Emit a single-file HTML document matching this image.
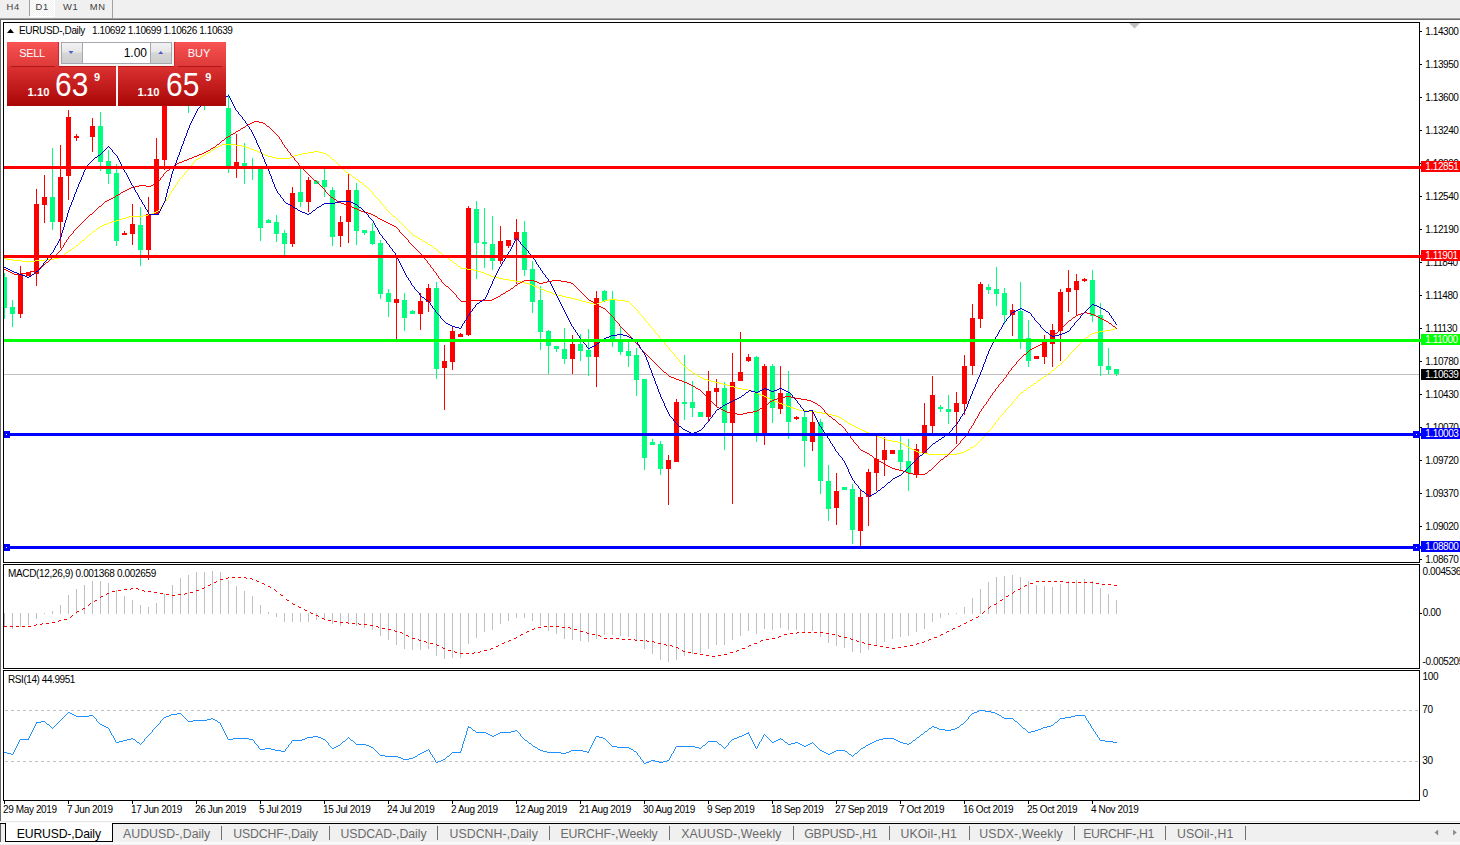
<!DOCTYPE html>
<html><head><meta charset="utf-8"><title>EURUSD</title>
<style>
html,body{margin:0;padding:0;background:#fff;}
body{width:1460px;height:845px;position:relative;overflow:hidden;font-family:"Liberation Sans",sans-serif;}
#chart{position:absolute;left:0;top:0}
.t{position:absolute;white-space:nowrap;line-height:11px;}
.ax{letter-spacing:-0.42px}
.pl{position:absolute;left:1421px;width:39px;height:11px;line-height:11px;font-size:10px;letter-spacing:-0.42px;white-space:nowrap;text-indent:4.3px;}
#tb{position:absolute;left:0;top:0;width:1460px;height:18px;background:#f0f0f0}
.tbt{position:absolute;top:0.8px;font-size:9.4px;letter-spacing:0.7px;line-height:12px;color:#404040}
#d1bg{position:absolute;left:30px;top:0;width:24px;height:16px;background:repeating-conic-gradient(#ffffff 0% 25%, #f0f0f0 0% 50%) 0 0/2px 2px;border-right:1px solid #fff;border-bottom:1px solid #fff}
.vs{position:absolute;top:0;width:1px;background:#a0a0a0}
#l18{position:absolute;left:0;top:18px;width:1460px;height:1px;background:#a0a0a0}
#l19{position:absolute;left:0;top:19px;width:1460px;height:1px;background:#696969}
#lv{position:absolute;left:0;top:19px;width:1px;height:802px;background:#696969}
#tabbar{position:absolute;left:0;top:821px;width:1460px;height:24px;background:#f0f0f0}
#tabline0{position:absolute;left:0;top:821px;width:1460px;height:1px;background:#e6e6e6}
#tabline1{position:absolute;left:0;top:822px;width:1460px;height:1px;background:#fbfbfb}
#tabline{position:absolute;left:0;top:823px;width:1460px;height:1px;background:#000}
#tabbot{position:absolute;left:0;top:842px;width:1460px;height:2px;background:#fafafa}
#tabl{position:absolute;left:0;top:824px;width:1px;height:18px;background:#606060}
#tabact{position:absolute;left:5px;top:823px;width:106px;height:18px;background:#fff;border:1px solid #000;border-top:none;font-size:12.2px;letter-spacing:-0.15px;line-height:22.6px;text-indent:10.8px;color:#000}
#tabact0{position:absolute;left:0;top:822px;width:113px;height:1px;background:#fff}
#tabact1{position:absolute;left:0;top:823px;width:6px;height:1px;background:#000}
#tabact2{position:absolute;left:5px;top:823px;width:1px;height:19px;background:#000}
.tab{position:absolute;top:826.8px;font-size:12.3px;letter-spacing:-0.12px;line-height:14px;color:#6a6a6a;white-space:nowrap}
.tsep{position:absolute;top:826px;width:1px;height:14px;background:#707070}
#pnl{position:absolute;left:7px;top:42px;width:219px;height:64px}
.pb{position:absolute}
.pt{position:absolute;color:#fff;white-space:nowrap;line-height:1.2}
.big{font-size:34px;line-height:36px;transform:scaleX(0.88);transform-origin:0 0}
</style></head>
<body>
<svg id="chart" width="1460" height="845" viewBox="0 0 1460 845">
<defs><clipPath id="cm"><rect x="4" y="23" width="1415" height="539"/></clipPath></defs>
<rect x="4" y="374" width="1415" height="1" fill="#c0c0c0"/>
<g clip-path="url(#cm)">
<rect x="4" y="273" width="1" height="46" fill="#00ff7f"/>
<rect x="2" y="277" width="5" height="31" fill="#00ff7f"/>
<rect x="12" y="300" width="1" height="27" fill="#00ff7f"/>
<rect x="10" y="307" width="5" height="7" fill="#00ff7f"/>
<rect x="20" y="266" width="1" height="52" fill="#ff0000"/>
<rect x="18" y="274" width="5" height="40" fill="#ff0000"/>
<rect x="28" y="272" width="1" height="4" fill="#ff0000"/>
<rect x="26" y="272" width="5" height="4" fill="#ff0000"/>
<rect x="36" y="189" width="1" height="97" fill="#ff0000"/>
<rect x="34" y="204" width="5" height="70" fill="#ff0000"/>
<rect x="44" y="175" width="1" height="48" fill="#ff0000"/>
<rect x="42" y="197" width="5" height="8" fill="#ff0000"/>
<rect x="52" y="148" width="1" height="82" fill="#00ff7f"/>
<rect x="50" y="197" width="5" height="25" fill="#00ff7f"/>
<rect x="60" y="145" width="1" height="103" fill="#ff0000"/>
<rect x="58" y="177" width="5" height="45" fill="#ff0000"/>
<rect x="68" y="110" width="1" height="90" fill="#ff0000"/>
<rect x="66" y="117" width="5" height="59" fill="#ff0000"/>
<rect x="76" y="134" width="1" height="7" fill="#ff0000"/>
<rect x="74" y="136" width="5" height="2" fill="#ff0000"/>
<rect x="92" y="118" width="1" height="34" fill="#ff0000"/>
<rect x="90" y="126" width="5" height="11" fill="#ff0000"/>
<rect x="100" y="112" width="1" height="59" fill="#00ff7f"/>
<rect x="98" y="126" width="5" height="36" fill="#00ff7f"/>
<rect x="108" y="150" width="1" height="34" fill="#00ff7f"/>
<rect x="106" y="161" width="5" height="13" fill="#00ff7f"/>
<rect x="116" y="164" width="1" height="82" fill="#00ff7f"/>
<rect x="114" y="173" width="5" height="68" fill="#00ff7f"/>
<rect x="124" y="231" width="1" height="4" fill="#ff0000"/>
<rect x="122" y="233" width="5" height="2" fill="#ff0000"/>
<rect x="132" y="204" width="1" height="41" fill="#ff0000"/>
<rect x="130" y="224" width="5" height="10" fill="#ff0000"/>
<rect x="140" y="207" width="1" height="59" fill="#00ff7f"/>
<rect x="138" y="225" width="5" height="25" fill="#00ff7f"/>
<rect x="148" y="197" width="1" height="63" fill="#ff0000"/>
<rect x="146" y="214" width="5" height="36" fill="#ff0000"/>
<rect x="156" y="138" width="1" height="77" fill="#ff0000"/>
<rect x="154" y="159" width="5" height="56" fill="#ff0000"/>
<rect x="164" y="55" width="1" height="115" fill="#ff0000"/>
<rect x="162" y="72" width="5" height="88" fill="#ff0000"/>
<rect x="188" y="70" width="1" height="43" fill="#00ff7f"/>
<rect x="186" y="80" width="5" height="20" fill="#00ff7f"/>
<rect x="204" y="70" width="1" height="40" fill="#00ff7f"/>
<rect x="202" y="80" width="5" height="20" fill="#00ff7f"/>
<rect x="228" y="94" width="1" height="79" fill="#00ff7f"/>
<rect x="226" y="108" width="5" height="58" fill="#00ff7f"/>
<rect x="236" y="134" width="1" height="44" fill="#ff0000"/>
<rect x="234" y="162" width="5" height="4" fill="#ff0000"/>
<rect x="244" y="143" width="1" height="41" fill="#00ff7f"/>
<rect x="242" y="163" width="5" height="3" fill="#00ff7f"/>
<rect x="252" y="158" width="1" height="22" fill="#00ff7f"/>
<rect x="250" y="166" width="5" height="2" fill="#00ff7f"/>
<rect x="260" y="166" width="1" height="75" fill="#00ff7f"/>
<rect x="258" y="169" width="5" height="59" fill="#00ff7f"/>
<rect x="268" y="219" width="1" height="4" fill="#00ff7f"/>
<rect x="266" y="220" width="5" height="3" fill="#00ff7f"/>
<rect x="276" y="215" width="1" height="27" fill="#00ff7f"/>
<rect x="274" y="222" width="5" height="12" fill="#00ff7f"/>
<rect x="284" y="230" width="1" height="25" fill="#00ff7f"/>
<rect x="282" y="233" width="5" height="11" fill="#00ff7f"/>
<rect x="292" y="187" width="1" height="60" fill="#ff0000"/>
<rect x="290" y="193" width="5" height="51" fill="#ff0000"/>
<rect x="300" y="169" width="1" height="38" fill="#00ff7f"/>
<rect x="298" y="192" width="5" height="10" fill="#00ff7f"/>
<rect x="308" y="177" width="1" height="35" fill="#ff0000"/>
<rect x="306" y="180" width="5" height="22" fill="#ff0000"/>
<rect x="316" y="180" width="1" height="4" fill="#00ff7f"/>
<rect x="314" y="181" width="5" height="3" fill="#00ff7f"/>
<rect x="324" y="169" width="1" height="28" fill="#00ff7f"/>
<rect x="322" y="180" width="5" height="7" fill="#00ff7f"/>
<rect x="332" y="187" width="1" height="59" fill="#00ff7f"/>
<rect x="330" y="190" width="5" height="47" fill="#00ff7f"/>
<rect x="340" y="216" width="1" height="31" fill="#ff0000"/>
<rect x="338" y="222" width="5" height="14" fill="#ff0000"/>
<rect x="348" y="174" width="1" height="69" fill="#ff0000"/>
<rect x="346" y="190" width="5" height="32" fill="#ff0000"/>
<rect x="356" y="183" width="1" height="62" fill="#00ff7f"/>
<rect x="354" y="190" width="5" height="41" fill="#00ff7f"/>
<rect x="364" y="230" width="1" height="5" fill="#00ff7f"/>
<rect x="362" y="230" width="5" height="3" fill="#00ff7f"/>
<rect x="372" y="223" width="1" height="22" fill="#00ff7f"/>
<rect x="370" y="231" width="5" height="13" fill="#00ff7f"/>
<rect x="380" y="240" width="1" height="59" fill="#00ff7f"/>
<rect x="378" y="243" width="5" height="51" fill="#00ff7f"/>
<rect x="388" y="289" width="1" height="28" fill="#00ff7f"/>
<rect x="386" y="293" width="5" height="9" fill="#00ff7f"/>
<rect x="396" y="258" width="1" height="81" fill="#ff0000"/>
<rect x="394" y="299" width="5" height="4" fill="#ff0000"/>
<rect x="404" y="293" width="1" height="38" fill="#00ff7f"/>
<rect x="402" y="300" width="5" height="18" fill="#00ff7f"/>
<rect x="412" y="310" width="1" height="4" fill="#00ff7f"/>
<rect x="410" y="311" width="5" height="3" fill="#00ff7f"/>
<rect x="420" y="293" width="1" height="37" fill="#ff0000"/>
<rect x="418" y="301" width="5" height="13" fill="#ff0000"/>
<rect x="428" y="284" width="1" height="28" fill="#ff0000"/>
<rect x="426" y="288" width="5" height="14" fill="#ff0000"/>
<rect x="436" y="282" width="1" height="97" fill="#00ff7f"/>
<rect x="434" y="288" width="5" height="81" fill="#00ff7f"/>
<rect x="444" y="345" width="1" height="65" fill="#ff0000"/>
<rect x="442" y="361" width="5" height="7" fill="#ff0000"/>
<rect x="452" y="327" width="1" height="43" fill="#ff0000"/>
<rect x="450" y="331" width="5" height="31" fill="#ff0000"/>
<rect x="460" y="333" width="1" height="4" fill="#ff0000"/>
<rect x="458" y="334" width="5" height="3" fill="#ff0000"/>
<rect x="468" y="206" width="1" height="130" fill="#ff0000"/>
<rect x="466" y="208" width="5" height="127" fill="#ff0000"/>
<rect x="476" y="201" width="1" height="78" fill="#00ff7f"/>
<rect x="474" y="209" width="5" height="34" fill="#00ff7f"/>
<rect x="484" y="208" width="1" height="60" fill="#00ff7f"/>
<rect x="482" y="242" width="5" height="2" fill="#00ff7f"/>
<rect x="492" y="216" width="1" height="54" fill="#00ff7f"/>
<rect x="490" y="244" width="5" height="17" fill="#00ff7f"/>
<rect x="500" y="226" width="1" height="38" fill="#ff0000"/>
<rect x="498" y="241" width="5" height="20" fill="#ff0000"/>
<rect x="508" y="240" width="1" height="8" fill="#ff0000"/>
<rect x="506" y="240" width="5" height="6" fill="#ff0000"/>
<rect x="516" y="219" width="1" height="65" fill="#ff0000"/>
<rect x="514" y="232" width="5" height="8" fill="#ff0000"/>
<rect x="524" y="221" width="1" height="55" fill="#00ff7f"/>
<rect x="522" y="232" width="5" height="38" fill="#00ff7f"/>
<rect x="532" y="261" width="1" height="52" fill="#00ff7f"/>
<rect x="530" y="269" width="5" height="33" fill="#00ff7f"/>
<rect x="540" y="286" width="1" height="64" fill="#00ff7f"/>
<rect x="538" y="300" width="5" height="32" fill="#00ff7f"/>
<rect x="548" y="330" width="1" height="44" fill="#00ff7f"/>
<rect x="546" y="331" width="5" height="15" fill="#00ff7f"/>
<rect x="556" y="346" width="1" height="6" fill="#00ff7f"/>
<rect x="554" y="346" width="5" height="3" fill="#00ff7f"/>
<rect x="564" y="328" width="1" height="36" fill="#00ff7f"/>
<rect x="562" y="349" width="5" height="10" fill="#00ff7f"/>
<rect x="572" y="335" width="1" height="39" fill="#ff0000"/>
<rect x="570" y="344" width="5" height="15" fill="#ff0000"/>
<rect x="580" y="334" width="1" height="27" fill="#00ff7f"/>
<rect x="578" y="344" width="5" height="7" fill="#00ff7f"/>
<rect x="588" y="329" width="1" height="47" fill="#00ff7f"/>
<rect x="586" y="350" width="5" height="7" fill="#00ff7f"/>
<rect x="596" y="291" width="1" height="96" fill="#ff0000"/>
<rect x="594" y="298" width="5" height="59" fill="#ff0000"/>
<rect x="604" y="290" width="1" height="12" fill="#00ff7f"/>
<rect x="602" y="291" width="5" height="10" fill="#00ff7f"/>
<rect x="612" y="291" width="1" height="56" fill="#00ff7f"/>
<rect x="610" y="300" width="5" height="42" fill="#00ff7f"/>
<rect x="620" y="327" width="1" height="28" fill="#00ff7f"/>
<rect x="618" y="341" width="5" height="11" fill="#00ff7f"/>
<rect x="628" y="342" width="1" height="25" fill="#00ff7f"/>
<rect x="626" y="351" width="5" height="5" fill="#00ff7f"/>
<rect x="636" y="348" width="1" height="48" fill="#00ff7f"/>
<rect x="634" y="355" width="5" height="25" fill="#00ff7f"/>
<rect x="644" y="379" width="1" height="91" fill="#00ff7f"/>
<rect x="642" y="379" width="5" height="79" fill="#00ff7f"/>
<rect x="652" y="439" width="1" height="6" fill="#00ff7f"/>
<rect x="650" y="442" width="5" height="3" fill="#00ff7f"/>
<rect x="660" y="441" width="1" height="34" fill="#00ff7f"/>
<rect x="658" y="444" width="5" height="25" fill="#00ff7f"/>
<rect x="668" y="455" width="1" height="50" fill="#ff0000"/>
<rect x="666" y="460" width="5" height="9" fill="#ff0000"/>
<rect x="676" y="399" width="1" height="63" fill="#ff0000"/>
<rect x="674" y="402" width="5" height="60" fill="#ff0000"/>
<rect x="684" y="355" width="1" height="65" fill="#00ff7f"/>
<rect x="682" y="402" width="5" height="2" fill="#00ff7f"/>
<rect x="692" y="381" width="1" height="36" fill="#00ff7f"/>
<rect x="690" y="402" width="5" height="6" fill="#00ff7f"/>
<rect x="700" y="412" width="1" height="5" fill="#00ff7f"/>
<rect x="698" y="412" width="5" height="5" fill="#00ff7f"/>
<rect x="708" y="371" width="1" height="50" fill="#ff0000"/>
<rect x="706" y="391" width="5" height="26" fill="#ff0000"/>
<rect x="716" y="379" width="1" height="27" fill="#ff0000"/>
<rect x="714" y="388" width="5" height="4" fill="#ff0000"/>
<rect x="724" y="382" width="1" height="68" fill="#00ff7f"/>
<rect x="722" y="388" width="5" height="35" fill="#00ff7f"/>
<rect x="732" y="353" width="1" height="151" fill="#ff0000"/>
<rect x="730" y="382" width="5" height="41" fill="#ff0000"/>
<rect x="740" y="332" width="1" height="49" fill="#ff0000"/>
<rect x="738" y="372" width="5" height="9" fill="#ff0000"/>
<rect x="748" y="354" width="1" height="8" fill="#ff0000"/>
<rect x="746" y="357" width="5" height="4" fill="#ff0000"/>
<rect x="756" y="356" width="1" height="86" fill="#00ff7f"/>
<rect x="754" y="357" width="5" height="76" fill="#00ff7f"/>
<rect x="764" y="364" width="1" height="81" fill="#ff0000"/>
<rect x="762" y="366" width="5" height="67" fill="#ff0000"/>
<rect x="772" y="364" width="1" height="59" fill="#00ff7f"/>
<rect x="770" y="366" width="5" height="42" fill="#00ff7f"/>
<rect x="780" y="366" width="1" height="48" fill="#ff0000"/>
<rect x="778" y="393" width="5" height="16" fill="#ff0000"/>
<rect x="788" y="371" width="1" height="68" fill="#00ff7f"/>
<rect x="786" y="393" width="5" height="29" fill="#00ff7f"/>
<rect x="796" y="416" width="1" height="4" fill="#ff0000"/>
<rect x="794" y="417" width="5" height="2" fill="#ff0000"/>
<rect x="804" y="410" width="1" height="57" fill="#00ff7f"/>
<rect x="802" y="417" width="5" height="24" fill="#00ff7f"/>
<rect x="812" y="410" width="1" height="41" fill="#ff0000"/>
<rect x="810" y="422" width="5" height="20" fill="#ff0000"/>
<rect x="820" y="419" width="1" height="75" fill="#00ff7f"/>
<rect x="818" y="422" width="5" height="59" fill="#00ff7f"/>
<rect x="828" y="465" width="1" height="56" fill="#00ff7f"/>
<rect x="826" y="481" width="5" height="28" fill="#00ff7f"/>
<rect x="836" y="473" width="1" height="52" fill="#ff0000"/>
<rect x="834" y="491" width="5" height="17" fill="#ff0000"/>
<rect x="844" y="487" width="1" height="3" fill="#00ff7f"/>
<rect x="842" y="487" width="5" height="3" fill="#00ff7f"/>
<rect x="852" y="484" width="1" height="60" fill="#00ff7f"/>
<rect x="850" y="489" width="5" height="41" fill="#00ff7f"/>
<rect x="860" y="490" width="1" height="56" fill="#ff0000"/>
<rect x="858" y="497" width="5" height="34" fill="#ff0000"/>
<rect x="868" y="469" width="1" height="57" fill="#ff0000"/>
<rect x="866" y="472" width="5" height="25" fill="#ff0000"/>
<rect x="876" y="435" width="1" height="56" fill="#ff0000"/>
<rect x="874" y="459" width="5" height="14" fill="#ff0000"/>
<rect x="884" y="437" width="1" height="39" fill="#ff0000"/>
<rect x="882" y="450" width="5" height="10" fill="#ff0000"/>
<rect x="892" y="450" width="1" height="4" fill="#ff0000"/>
<rect x="890" y="450" width="5" height="4" fill="#ff0000"/>
<rect x="900" y="436" width="1" height="34" fill="#00ff7f"/>
<rect x="898" y="450" width="5" height="12" fill="#00ff7f"/>
<rect x="908" y="439" width="1" height="52" fill="#00ff7f"/>
<rect x="906" y="461" width="5" height="12" fill="#00ff7f"/>
<rect x="916" y="444" width="1" height="34" fill="#ff0000"/>
<rect x="914" y="449" width="5" height="25" fill="#ff0000"/>
<rect x="924" y="403" width="1" height="51" fill="#ff0000"/>
<rect x="922" y="425" width="5" height="29" fill="#ff0000"/>
<rect x="932" y="376" width="1" height="58" fill="#ff0000"/>
<rect x="930" y="395" width="5" height="31" fill="#ff0000"/>
<rect x="940" y="405" width="1" height="7" fill="#00ff7f"/>
<rect x="938" y="407" width="5" height="2" fill="#00ff7f"/>
<rect x="948" y="395" width="1" height="29" fill="#00ff7f"/>
<rect x="946" y="409" width="5" height="3" fill="#00ff7f"/>
<rect x="956" y="392" width="1" height="52" fill="#ff0000"/>
<rect x="954" y="403" width="5" height="9" fill="#ff0000"/>
<rect x="964" y="355" width="1" height="60" fill="#ff0000"/>
<rect x="962" y="366" width="5" height="38" fill="#ff0000"/>
<rect x="972" y="304" width="1" height="71" fill="#ff0000"/>
<rect x="970" y="318" width="5" height="48" fill="#ff0000"/>
<rect x="980" y="282" width="1" height="46" fill="#ff0000"/>
<rect x="978" y="284" width="5" height="35" fill="#ff0000"/>
<rect x="988" y="284" width="1" height="10" fill="#00ff7f"/>
<rect x="986" y="287" width="5" height="3" fill="#00ff7f"/>
<rect x="996" y="267" width="1" height="39" fill="#00ff7f"/>
<rect x="994" y="289" width="5" height="5" fill="#00ff7f"/>
<rect x="1004" y="288" width="1" height="36" fill="#00ff7f"/>
<rect x="1002" y="293" width="5" height="22" fill="#00ff7f"/>
<rect x="1012" y="304" width="1" height="32" fill="#ff0000"/>
<rect x="1010" y="310" width="5" height="5" fill="#ff0000"/>
<rect x="1020" y="282" width="1" height="67" fill="#00ff7f"/>
<rect x="1018" y="311" width="5" height="28" fill="#00ff7f"/>
<rect x="1028" y="320" width="1" height="47" fill="#00ff7f"/>
<rect x="1026" y="338" width="5" height="23" fill="#00ff7f"/>
<rect x="1036" y="356" width="1" height="3" fill="#ff0000"/>
<rect x="1034" y="356" width="5" height="3" fill="#ff0000"/>
<rect x="1044" y="335" width="1" height="29" fill="#ff0000"/>
<rect x="1042" y="342" width="5" height="15" fill="#ff0000"/>
<rect x="1052" y="324" width="1" height="43" fill="#ff0000"/>
<rect x="1050" y="330" width="5" height="14" fill="#ff0000"/>
<rect x="1060" y="289" width="1" height="72" fill="#ff0000"/>
<rect x="1058" y="292" width="5" height="39" fill="#ff0000"/>
<rect x="1068" y="270" width="1" height="42" fill="#ff0000"/>
<rect x="1066" y="288" width="5" height="4" fill="#ff0000"/>
<rect x="1076" y="274" width="1" height="41" fill="#ff0000"/>
<rect x="1074" y="281" width="5" height="9" fill="#ff0000"/>
<rect x="1084" y="278" width="1" height="4" fill="#ff0000"/>
<rect x="1082" y="279" width="5" height="2" fill="#ff0000"/>
<rect x="1092" y="270" width="1" height="52" fill="#00ff7f"/>
<rect x="1090" y="280" width="5" height="36" fill="#00ff7f"/>
<rect x="1100" y="303" width="1" height="73" fill="#00ff7f"/>
<rect x="1098" y="315" width="5" height="51" fill="#00ff7f"/>
<rect x="1108" y="348" width="1" height="27" fill="#00ff7f"/>
<rect x="1106" y="366" width="5" height="4" fill="#00ff7f"/>
<rect x="1116" y="369" width="1" height="7" fill="#00ff7f"/>
<rect x="1114" y="369" width="5" height="5" fill="#00ff7f"/>
</g>
<g clip-path="url(#cm)" shape-rendering="crispEdges">
<path d="M206 153h2v1h-2zM261 153h2v1h-2zM302 153h6v1h-6zM323 153h3v1h-3zM203 155h2v1h-2zM265 155h3v1h-3zM294 155h4v1h-4zM327 155h2v1h-2zM196 159h2v1h-2zM332 159h2v1h-2zM908 447h2v1h-2zM971 447h2v1h-2zM887 440h5v1h-5zM586 302h4v1h-4zM599 302h3v1h-3zM257 151h2v1h-2zM314 151h5v1h-5zM222 144h14v1h-14zM104 224h3v1h-3zM918 452h4v1h-4zM961 452h3v1h-3zM549 292h3v1h-3zM774 401h3v1h-3zM76 245h2v1h-2zM430 245h2v1h-2zM211 150h2v1h-2zM254 150h3v1h-3zM766 397h2v1h-2zM356 179h2v1h-2zM109 222h3v1h-3zM1095 332h4v1h-4zM541 289h3v1h-3zM768 398h2v1h-2zM759 394h2v1h-2zM216 147h2v1h-2zM246 147h3v1h-3zM503 279h6v1h-6zM201 156h2v1h-2zM268 156h4v1h-4zM292 156h2v1h-2zM842 419h2v1h-2zM148 214h4v1h-4zM4 258h3v1h-3zM54 258h5v1h-5zM7 259h6v1h-6zM45 259h9v1h-9zM860 429h2v1h-2zM882 438h3v1h-3zM579 300h3v1h-3zM604 300h5v1h-5zM617 300h8v1h-8zM684 366h2v1h-2zM770 399h2v1h-2zM761 395h3v1h-3zM799 410h8v1h-8zM796 409h3v1h-3zM836 416h3v1h-3zM478 271h3v1h-3zM129 216h14v1h-14zM393 216h2v1h-2zM515 281h6v1h-6zM928 454h29v1h-29zM754 392h3v1h-3zM1021 392h2v1h-2zM575 299h4v1h-4zM609 299h8v1h-8zM785 405h2v1h-2zM13 260h9v1h-9zM35 260h10v1h-10zM450 260h2v1h-2zM428 244h2v1h-2zM839 417h2v1h-2zM807 411h9v1h-9zM499 278h4v1h-4zM116 220h3v1h-3zM208 152h2v1h-2zM259 152h2v1h-2zM308 152h6v1h-6zM319 152h4v1h-4zM816 412h6v1h-6zM272 157h4v1h-4zM290 157h2v1h-2zM22 261h13v1h-13zM748 390h4v1h-4zM1024 390h2v1h-2zM100 226h2v1h-2zM790 407h3v1h-3zM554 294h4v1h-4zM892 441h6v1h-6zM218 146h2v1h-2zM242 146h4v1h-4zM832 415h4v1h-4zM62 255h2v1h-2zM443 255h2v1h-2zM1099 331h6v1h-6zM156 211h2v1h-2zM143 215h5v1h-5zM82 240h2v1h-2zM711 381h4v1h-4zM154 212h2v1h-2zM249 148h2v1h-2zM72 248h2v1h-2zM434 248h2v1h-2zM1105 330h6v1h-6zM521 282h4v1h-4zM793 408h3v1h-3zM152 213h2v1h-2zM458 266h2v1h-2zM704 379h4v1h-4zM742 389h6v1h-6zM582 301h4v1h-4zM602 301h2v1h-2zM625 301h4v1h-4zM420 239h2v1h-2zM349 174h2v1h-2zM66 252h2v1h-2zM439 252h2v1h-2zM787 406h3v1h-3zM698 376h2v1h-2zM1044 376h2v1h-2zM734 387h3v1h-3zM1028 387h2v1h-2zM715 382h4v1h-4zM454 263h2v1h-2zM1086 337h2v1h-2zM822 413h6v1h-6zM481 272h3v1h-3zM723 384h4v1h-4zM461 268h6v1h-6zM1090 334h2v1h-2zM198 158h2v1h-2zM276 158h14v1h-14zM719 383h4v1h-4zM1034 383h2v1h-2zM122 218h4v1h-4zM590 303h4v1h-4zM597 303h2v1h-2zM906 446h2v1h-2zM973 446h2v1h-2zM102 225h2v1h-2zM558 295h4v1h-4zM1058 365h2v1h-2zM418 238h2v1h-2zM491 276h4v1h-4zM509 280h6v1h-6zM263 154h2v1h-2zM298 154h4v1h-4zM415 236h2v1h-2zM864 431h2v1h-2zM484 273h2v1h-2zM525 283h4v1h-4zM220 145h2v1h-2zM236 145h6v1h-6zM112 221h4v1h-4zM126 217h3v1h-3zM916 451h2v1h-2zM964 451h2v1h-2zM866 432h3v1h-3zM486 274h3v1h-3zM693 373h2v1h-2zM1048 373h2v1h-2zM365 186h2v1h-2zM489 275h2v1h-2zM467 269h7v1h-7zM852 425h2v1h-2zM562 296h4v1h-4zM872 434h2v1h-2zM544 290h2v1h-2zM903 444h2v1h-2zM862 430h2v1h-2zM901 443h2v1h-2zM912 449h2v1h-2zM968 449h2v1h-2zM727 385h3v1h-3zM1031 385h2v1h-2zM537 287h2v1h-2zM700 377h2v1h-2zM566 297h5v1h-5zM845 421h2v1h-2zM856 427h2v1h-2zM898 442h3v1h-3zM848 423h2v1h-2zM529 284h3v1h-3zM702 378h2v1h-2zM1041 378h2v1h-2zM877 436h2v1h-2zM539 288h2v1h-2zM757 393h2v1h-2zM922 453h6v1h-6zM957 453h4v1h-4zM910 448h2v1h-2zM879 437h3v1h-3zM869 433h3v1h-3zM532 285h2v1h-2zM730 386h4v1h-4zM534 286h3v1h-3zM854 426h2v1h-2zM594 304h3v1h-3zM874 435h3v1h-3zM495 277h4v1h-4zM571 298h4v1h-4zM689 370h2v1h-2zM1052 370h2v1h-2zM346 172h2v1h-2zM552 293h2v1h-2zM885 439h2v1h-2zM828 414h4v1h-4zM752 391h2v1h-2zM772 400h2v1h-2zM360 182h2v1h-2zM119 219h3v1h-3zM708 380h3v1h-3zM1038 380h2v1h-2zM737 388h5v1h-5zM1111 329h4v1h-4zM213 149h2v1h-2zM251 149h3v1h-3zM546 291h3v1h-3zM93 231h2v1h-2zM764 396h2v1h-2zM107 223h2v1h-2zM474 270h4v1h-4zM423 241h2v1h-2zM782 404h3v1h-3zM89 234h2v1h-2zM779 403h3v1h-3zM59 257h2v1h-2zM446 257h2v1h-2zM1092 333h3v1h-3zM353 177h2v1h-2zM97 228h2v1h-2zM425 242h2v1h-2zM858 428h2v1h-2zM1115 328h2v1h-2zM914 450h2v1h-2zM966 450h2v1h-2zM850 424h2v1h-2zM69 250h2v1h-2zM413 235h2v1h-2zM695 374h2v1h-2zM777 402h2v1h-2zM92 232h1v1h-1zM1069 354h1v1h-1zM673 353h1v1h-1zM995 422h1v2h-1zM400 222h1v1h-1zM655 332h1v1h-1zM370 190h1v1h-1zM64 254h1v1h-1zM990 429h1v1h-1zM648 323h1v1h-1zM173 188h1v2h-1zM1057 366h1v1h-1zM68 251h1v1h-1zM334 160h1v1h-1zM445 256h1v1h-1zM1006 409h1v1h-1zM189 168h1v1h-1zM407 229h1v1h-1zM1061 363h1v1h-1zM340 166h1v1h-1zM160 207h1v2h-1zM169 194h1v2h-1zM998 418h1v2h-1zM666 345h1v1h-1zM96 229h1v1h-1zM341 167h1v1h-1zM381 203h1v1h-1zM1076 347h1v1h-1zM982 438h1v1h-1zM688 369h1v1h-1zM355 178h1v1h-1zM979 441h1v1h-1zM388 211h1v1h-1zM389 212h1v1h-1zM215 148h1v1h-1zM1068 355h1v2h-1zM374 195h1v1h-1zM640 314h1v1h-1zM1040 379h1v1h-1zM329 156h1v1h-1zM1083 340h1v1h-1zM184 173h1v2h-1zM647 322h1v1h-1zM172 190h1v1h-1zM422 240h1v1h-1zM1033 384h1v1h-1zM176 184h1v1h-1zM179 179h1v2h-1zM373 193h1v2h-1zM632 305h1v1h-1zM417 237h1v1h-1zM1071 352h1v1h-1zM683 365h1v1h-1zM168 196h1v2h-1zM192 164h1v1h-1zM87 236h1v1h-1zM639 313h1v1h-1zM163 203h1v2h-1zM351 175h1v1h-1zM658 335h1v1h-1zM1013 401h1v1h-1zM187 170h1v1h-1zM395 217h1v1h-1zM669 348h1v2h-1zM1005 410h1v2h-1zM1008 407h1v1h-1zM1063 361h1v1h-1zM986 433h1v2h-1zM989 430h1v1h-1zM676 357h1v1h-1zM977 443h1v1h-1zM402 224h1v1h-1zM195 160h1v1h-1zM657 334h1v1h-1zM905 445h1v1h-1zM436 249h1v1h-1zM91 233h1v1h-1zM970 448h1v1h-1zM997 420h1v1h-1zM74 247h1v1h-1zM380 201h1v2h-1zM1075 348h1v1h-1zM175 185h1v2h-1zM649 324h1v2h-1zM78 244h1v1h-1zM992 426h1v2h-1zM631 304h1v1h-1zM650 326h1v1h-1zM335 161h1v1h-1zM390 213h1v1h-1zM372 192h1v1h-1zM1023 391h1v1h-1zM1054 369h1v1h-1zM391 214h1v1h-1zM638 311h1v2h-1zM679 360h1v2h-1zM1078 345h1v1h-1zM1000 416h1v1h-1zM1027 388h1v1h-1zM981 439h1v1h-1zM166 199h1v2h-1zM409 231h1v1h-1zM205 154h1v1h-1zM667 346h1v1h-1zM401 223h1v1h-1zM668 347h1v1h-1zM331 158h1v1h-1zM383 205h1v1h-1zM844 420h1v1h-1zM1012 402h1v2h-1zM1067 357h1v1h-1zM1070 353h1v1h-1zM408 230h1v1h-1zM427 243h1v1h-1zM1085 338h1v1h-1zM159 209h1v1h-1zM171 191h1v2h-1zM352 176h1v1h-1zM660 338h1v1h-1zM1089 335h1v1h-1zM1043 377h1v1h-1zM342 168h1v1h-1zM382 204h1v1h-1zM641 315h1v1h-1zM642 316h1v1h-1zM178 181h1v1h-1zM1073 350h1v1h-1zM442 254h1v1h-1zM976 444h1v1h-1zM194 161h1v1h-1zM659 336h1v2h-1zM162 205h1v1h-1zM165 201h1v1h-1zM678 359h1v1h-1zM80 242h1v1h-1zM186 171h1v1h-1zM375 196h1v1h-1zM991 428h1v1h-1zM634 307h1v1h-1zM61 256h1v1h-1zM460 267h1v1h-1zM1065 359h1v1h-1zM330 157h1v1h-1zM181 177h1v1h-1zM441 253h1v1h-1zM1062 362h1v1h-1zM670 350h1v1h-1zM1080 343h1v1h-1zM385 207h1v2h-1zM397 219h1v1h-1zM1037 381h1v1h-1zM367 187h1v1h-1zM1015 399h1v1h-1zM1018 395h1v1h-1zM386 209h1v1h-1zM633 306h1v1h-1zM983 437h1v1h-1zM456 264h1v1h-1zM348 173h1v1h-1zM677 358h1v1h-1zM368 188h1v1h-1zM1077 346h1v1h-1zM1010 405h1v1h-1zM999 417h1v1h-1zM404 226h1v1h-1zM65 253h1v1h-1zM326 154h1v1h-1zM994 424h1v1h-1zM174 187h1v1h-1zM177 182h1v2h-1zM396 218h1v1h-1zM1007 408h1v1h-1zM644 318h1v2h-1zM1056 367h1v1h-1zM452 261h1v1h-1zM1002 414h1v1h-1zM651 327h1v1h-1zM403 225h1v1h-1zM336 162h1v1h-1zM652 328h1v1h-1zM1026 389h1v1h-1zM1084 339h1v1h-1zM337 163h1v1h-1zM437 250h1v1h-1zM95 230h1v1h-1zM84 239h1v1h-1zM362 183h1v1h-1zM410 232h1v1h-1zM99 227h1v1h-1zM978 442h1v1h-1zM193 162h1v2h-1zM363 184h1v1h-1zM411 233h1v1h-1zM344 170h1v1h-1zM1072 351h1v1h-1zM1060 364h1v1h-1zM629 302h1v1h-1zM433 247h1v1h-1zM392 215h1v1h-1zM680 362h1v1h-1zM1088 336h1v1h-1zM691 371h1v1h-1zM661 339h1v1h-1zM681 363h1v1h-1zM200 157h1v1h-1zM662 340h1v1h-1zM377 198h1v1h-1zM1017 396h1v2h-1zM1020 393h1v1h-1zM448 258h1v1h-1zM841 418h1v1h-1zM343 169h1v1h-1zM1079 344h1v1h-1zM432 246h1v1h-1zM384 206h1v1h-1zM210 151h1v1h-1zM164 202h1v1h-1zM188 169h1v1h-1zM71 249h1v1h-1zM191 165h1v1h-1zM654 330h1v2h-1zM358 180h1v1h-1zM75 246h1v1h-1zM369 189h1v1h-1zM1009 406h1v1h-1zM183 175h1v1h-1zM1064 360h1v1h-1zM636 309h1v1h-1zM376 197h1v1h-1zM1047 374h1v1h-1zM1082 341h1v1h-1zM1004 412h1v1h-1zM180 178h1v1h-1zM985 435h1v1h-1zM1051 371h1v1h-1zM643 317h1v1h-1zM398 220h1v1h-1zM686 367h1v1h-1zM665 344h1v1h-1zM399 221h1v1h-1zM687 368h1v1h-1zM1001 415h1v1h-1zM86 237h1v1h-1zM672 352h1v1h-1zM79 243h1v1h-1zM653 329h1v1h-1zM993 425h1v1h-1zM457 265h1v1h-1zM635 308h1v1h-1zM406 228h1v1h-1zM339 165h1v1h-1zM988 431h1v1h-1zM364 185h1v1h-1zM1055 368h1v1h-1zM671 351h1v1h-1zM1036 382h1v1h-1zM167 198h1v1h-1zM387 210h1v1h-1zM646 321h1v1h-1zM996 421h1v1h-1zM1074 349h1v1h-1zM980 440h1v1h-1zM405 227h1v1h-1zM338 164h1v1h-1zM682 364h1v1h-1zM438 251h1v1h-1zM1016 398h1v1h-1zM190 166h1v2h-1zM664 342h1v2h-1zM645 320h1v1h-1zM412 234h1v1h-1zM1066 358h1v1h-1zM453 262h1v1h-1zM345 171h1v1h-1zM674 354h1v2h-1zM158 210h1v1h-1zM170 193h1v1h-1zM1030 386h1v1h-1zM675 356h1v1h-1zM182 176h1v1h-1zM1046 375h1v1h-1zM847 422h1v1h-1zM663 341h1v1h-1zM378 199h1v1h-1zM449 259h1v1h-1zM81 241h1v1h-1zM975 445h1v1h-1zM379 200h1v1h-1zM1011 404h1v1h-1zM85 238h1v1h-1zM161 206h1v1h-1zM697 375h1v1h-1zM630 303h1v1h-1zM185 172h1v1h-1zM692 372h1v1h-1zM359 181h1v1h-1zM1081 342h1v1h-1zM1003 413h1v1h-1zM656 333h1v1h-1zM1019 394h1v1h-1zM371 191h1v1h-1zM1050 372h1v1h-1zM984 436h1v1h-1zM987 432h1v1h-1zM637 310h1v1h-1zM88 235h1v1h-1zM1014 400h1v1h-1z" fill="#ffff00"/>
<path d="M522 281h2v1h-2zM534 281h3v1h-3zM547 281h5v1h-5zM561 281h6v1h-6zM520 282h2v1h-2zM537 282h2v1h-2zM543 282h4v1h-4zM567 282h4v1h-4zM127 189h2v1h-2zM691 385h2v1h-2zM1069 320h2v1h-2zM1104 320h2v1h-2zM1096 316h2v1h-2zM492 299h2v1h-2zM466 300h26v1h-26zM589 300h2v1h-2zM14 274h7v1h-7zM524 280h10v1h-10zM552 280h9v1h-9zM785 396h6v1h-6zM380 219h2v1h-2zM684 382h3v1h-3zM731 413h6v1h-6zM743 413h4v1h-4zM1081 313h3v1h-3zM1087 313h4v1h-4zM863 451h2v1h-2zM192 157h2v1h-2zM54 255h2v1h-2zM153 184h2v1h-2zM913 474h12v1h-12zM727 412h4v1h-4zM747 412h6v1h-6zM687 383h2v1h-2zM865 452h2v1h-2zM1100 318h2v1h-2zM1078 314h3v1h-3zM1091 314h3v1h-3zM461 301h5v1h-5zM591 301h2v1h-2zM737 414h6v1h-6zM236 131h2v1h-2zM886 465h2v1h-2zM903 471h3v1h-3zM679 380h3v1h-3zM231 134h2v1h-2zM518 283h2v1h-2zM539 283h4v1h-4zM571 283h2v1h-2zM777 398h2v1h-2zM795 398h6v1h-6zM508 290h2v1h-2zM867 453h2v1h-2zM211 148h2v1h-2zM766 404h2v1h-2zM1030 349h2v1h-2zM494 298h2v1h-2zM8 271h2v1h-2zM30 271h4v1h-4zM375 216h2v1h-2zM594 303h2v1h-2zM774 399h3v1h-3zM801 399h6v1h-6zM118 194h2v1h-2zM1036 346h2v1h-2zM208 150h2v1h-2zM779 397h6v1h-6zM791 397h4v1h-4zM717 407h2v1h-2zM1102 319h2v1h-2zM368 213h3v1h-3zM123 191h2v1h-2zM890 467h2v1h-2zM107 200h2v1h-2zM175 164h2v1h-2zM1106 321h2v1h-2zM135 186h4v1h-4zM146 186h5v1h-5zM131 187h4v1h-4zM892 468h3v1h-3zM113 197h2v1h-2zM331 197h2v1h-2zM721 409h2v1h-2zM506 291h2v1h-2zM390 224h2v1h-2zM10 272h2v1h-2zM27 272h3v1h-3zM763 406h2v1h-2zM496 297h2v1h-2zM877 460h2v1h-2zM357 209h2v1h-2zM698 389h2v1h-2zM12 273h2v1h-2zM21 273h6v1h-6zM156 182h2v1h-2zM1076 315h2v1h-2zM1094 315h2v1h-2zM109 199h2v1h-2zM334 199h2v1h-2zM879 461h2v1h-2zM204 152h2v1h-2zM99 206h2v1h-2zM350 206h2v1h-2zM770 401h2v1h-2zM811 401h2v1h-2zM111 198h2v1h-2zM341 203h3v1h-3zM881 462h2v1h-2zM874 458h2v1h-2zM361 211h3v1h-3zM669 376h2v1h-2zM895 469h4v1h-4zM676 379h3v1h-3zM384 221h2v1h-2zM167 170h2v1h-2zM254 121h5v1h-5zM354 208h3v1h-3zM344 204h3v1h-3zM815 403h2v1h-2zM693 386h2v1h-2zM184 160h3v1h-3zM347 205h3v1h-3zM177 163h2v1h-2zM250 123h2v1h-2zM263 123h2v1h-2zM1113 326h2v1h-2zM394 226h2v1h-2zM189 158h3v1h-3zM899 470h4v1h-4zM929 470h2v1h-2zM671 377h3v1h-3zM199 154h3v1h-3zM364 212h4v1h-4zM446 286h2v1h-2zM723 410h2v1h-2zM757 410h2v1h-2zM725 411h2v1h-2zM753 411h4v1h-4zM6 270h2v1h-2zM34 270h3v1h-3zM772 400h2v1h-2zM807 400h4v1h-4zM267 126h2v1h-2zM252 122h2v1h-2zM259 122h4v1h-4zM206 151h2v1h-2zM382 220h2v1h-2zM139 185h7v1h-7zM151 185h2v1h-2zM125 190h2v1h-2zM719 408h2v1h-2zM760 408h2v1h-2zM241 128h2v1h-2zM233 133h2v1h-2zM179 162h3v1h-3zM222 140h2v1h-2zM682 381h2v1h-2zM818 405h2v1h-2zM498 296h2v1h-2zM813 402h2v1h-2zM40 267h2v1h-2zM908 473h5v1h-5zM925 473h2v1h-2zM386 222h2v1h-2zM378 218h2v1h-2zM129 188h2v1h-2zM172 166h2v1h-2zM90 214h2v1h-2zM371 214h2v1h-2zM674 378h2v1h-2zM870 455h2v1h-2zM202 153h2v1h-2zM46 262h2v1h-2zM121 192h2v1h-2zM696 388h2v1h-2zM689 384h2v1h-2zM833 419h2v1h-2zM238 130h2v1h-2zM1109 323h2v1h-2zM197 155h2v1h-2zM243 127h2v1h-2zM503 293h2v1h-2zM182 161h2v1h-2zM603 308h2v1h-2zM1044 342h2v1h-2zM248 124h2v1h-2zM515 285h2v1h-2zM597 305h2v1h-2zM861 450h2v1h-2zM888 466h2v1h-2zM187 159h2v1h-2zM599 306h2v1h-2zM1048 339h2v1h-2zM1084 312h3v1h-3zM339 202h2v1h-2zM226 137h2v1h-2zM1055 333h2v1h-2zM352 207h2v1h-2zM1024 354h2v1h-2zM4 269h2v1h-2zM37 269h2v1h-2zM941 459h2v1h-2zM105 201h2v1h-2zM337 201h2v1h-2zM883 463h2v1h-2zM373 215h2v1h-2zM945 456h2v1h-2zM314 180h2v1h-2zM228 136h2v1h-2zM213 147h2v1h-2zM359 210h2v1h-2zM1042 343h2v1h-2zM511 288h2v1h-2zM1040 344h2v1h-2zM1073 317h2v1h-2zM1098 317h2v1h-2zM388 223h2v1h-2zM839 424h2v1h-2zM194 156h3v1h-3zM501 294h2v1h-2zM392 225h2v1h-2zM1038 345h2v1h-2zM246 125h2v1h-2zM116 195h2v1h-2zM906 472h2v1h-2zM1034 347h2v1h-2zM601 307h2v1h-2zM664 372h2v1h-2zM829 416h2v1h-2zM217 144h2v1h-2zM1032 348h2v1h-2zM274 132h1v1h-1zM944 457h1v1h-1zM459 299h1v1h-1zM573 284h1v1h-1zM706 396h1v1h-1zM976 418h1v1h-1zM625 331h1v1h-1zM85 219h1v1h-1zM968 431h1v2h-1zM647 355h1v1h-1zM422 255h1v1h-1zM1012 367h1v1h-1zM853 440h1v2h-1zM835 420h1v1h-1zM960 441h1v2h-1zM158 181h1v1h-1zM928 471h1v1h-1zM273 131h1v1h-1zM963 438h1v1h-1zM983 406h1v2h-1zM1007 374h1v1h-1zM58 252h1v1h-1zM61 248h1v2h-1zM972 425h1v1h-1zM632 338h1v1h-1zM995 389h1v2h-1zM1065 324h1v1h-1zM436 273h1v2h-1zM73 231h1v2h-1zM500 295h1v1h-1zM860 449h1v1h-1zM714 404h1v1h-1zM654 362h1v1h-1zM1062 327h1v1h-1zM458 298h1v1h-1zM437 275h1v1h-1zM88 216h1v1h-1zM216 145h1v1h-1zM56 254h1v1h-1zM655 363h1v1h-1zM639 346h1v2h-1zM45 263h1v1h-1zM762 407h1v1h-1zM68 237h1v2h-1zM92 213h1v1h-1zM948 454h1v1h-1zM220 142h1v1h-1zM284 145h1v2h-1zM166 171h1v1h-1zM1015 364h1v1h-1zM1018 360h1v1h-1zM115 196h1v1h-1zM49 260h1v1h-1zM1003 379h1v2h-1zM661 369h1v1h-1zM325 190h1v2h-1zM336 200h1v1h-1zM831 417h1v1h-1zM662 370h1v1h-1zM161 177h1v1h-1zM298 163h1v2h-1zM935 465h1v1h-1zM450 289h1v1h-1zM64 243h1v2h-1zM410 243h1v1h-1zM932 468h1v1h-1zM299 165h1v1h-1zM451 290h1v1h-1zM823 409h1v1h-1zM617 322h1v1h-1zM580 291h1v1h-1zM411 244h1v1h-1zM80 224h1v1h-1zM435 272h1v1h-1zM975 419h1v2h-1zM317 182h1v1h-1zM287 149h1v2h-1zM990 396h1v2h-1zM306 172h1v1h-1zM841 425h1v1h-1zM955 447h1v1h-1zM587 298h1v1h-1zM402 234h1v1h-1zM660 368h1v1h-1zM842 426h1v1h-1zM979 412h1v2h-1zM609 313h1v1h-1zM1006 375h1v2h-1zM424 257h1v2h-1zM403 235h1v1h-1zM971 426h1v2h-1zM579 290h1v1h-1zM324 189h1v1h-1zM631 337h1v1h-1zM1053 335h1v1h-1zM83 221h1v1h-1zM425 259h1v1h-1zM409 242h1v1h-1zM986 402h1v2h-1zM998 385h1v2h-1zM852 439h1v1h-1zM826 413h1v1h-1zM701 391h1v1h-1zM641 349h1v1h-1zM620 326h1v1h-1zM416 249h1v1h-1zM305 171h1v1h-1zM827 414h1v1h-1zM702 392h1v1h-1zM286 148h1v1h-1zM642 350h1v1h-1zM103 203h1v1h-1zM417 250h1v1h-1zM160 178h1v2h-1zM1029 350h1v1h-1zM60 250h1v1h-1zM72 233h1v1h-1zM514 286h1v1h-1zM96 209h1v1h-1zM708 398h1v1h-1zM1022 356h1v1h-1zM648 356h1v1h-1zM423 256h1v1h-1zM1057 332h1v1h-1zM312 178h1v1h-1zM709 399h1v1h-1zM649 357h1v1h-1zM1026 353h1v1h-1zM313 179h1v1h-1zM619 324h1v2h-1zM94 211h1v1h-1zM950 452h1v1h-1zM939 461h1v1h-1zM634 340h1v2h-1zM438 276h1v2h-1zM989 398h1v1h-1zM837 422h1v1h-1zM715 405h1v1h-1zM87 217h1v1h-1zM943 458h1v1h-1zM439 278h1v1h-1zM667 374h1v1h-1zM716 406h1v1h-1zM978 414h1v2h-1zM1014 365h1v1h-1zM290 153h1v2h-1zM1071 319h1v1h-1zM63 245h1v2h-1zM962 439h1v1h-1zM75 229h1v1h-1zM1009 371h1v1h-1zM1075 316h1v1h-1zM297 162h1v1h-1zM575 286h1v1h-1zM1064 325h1v1h-1zM974 421h1v2h-1zM427 261h1v2h-1zM327 193h1v1h-1zM51 258h1v1h-1zM854 442h1v1h-1zM969 429h1v2h-1zM452 291h1v1h-1zM67 239h1v1h-1zM957 445h1v1h-1zM70 235h1v1h-1zM230 135h1v1h-1zM855 443h1v1h-1zM453 292h1v1h-1zM869 454h1v1h-1zM275 133h1v1h-1zM582 293h1v1h-1zM1017 361h1v1h-1zM765 405h1v1h-1zM596 304h1v1h-1zM965 436h1v1h-1zM163 174h1v2h-1zM656 364h1v1h-1zM460 300h1v1h-1zM574 285h1v1h-1zM319 184h1v1h-1zM626 332h1v1h-1zM605 309h1v1h-1zM289 152h1v1h-1zM934 466h1v1h-1zM832 418h1v1h-1zM82 222h1v1h-1zM326 192h1v1h-1zM985 404h1v1h-1zM611 315h1v1h-1zM997 387h1v1h-1zM663 371h1v1h-1zM633 339h1v1h-1zM612 316h1v1h-1zM300 166h1v1h-1zM618 323h1v1h-1zM992 393h1v2h-1zM441 280h1v2h-1zM412 245h1v1h-1zM98 207h1v1h-1zM240 129h1v1h-1zM1059 330h1v1h-1zM1005 377h1v1h-1zM224 139h1v1h-1zM170 168h1v1h-1zM1008 372h1v2h-1zM828 415h1v1h-1zM703 393h1v1h-1zM288 151h1v1h-1zM1028 351h1v1h-1zM42 266h1v1h-1zM307 173h1v1h-1zM513 287h1v1h-1zM704 394h1v1h-1zM644 352h1v1h-1zM988 399h1v2h-1zM419 252h1v1h-1zM1046 341h1v1h-1zM66 240h1v2h-1zM1000 383h1v1h-1zM843 427h1v1h-1zM610 314h1v1h-1zM89 215h1v1h-1zM404 236h1v1h-1zM844 428h1v1h-1zM847 432h1v2h-1zM426 260h1v1h-1zM1016 362h1v2h-1zM581 292h1v1h-1zM711 401h1v1h-1zM430 265h1v2h-1zM858 446h1v2h-1zM318 183h1v1h-1zM821 407h1v1h-1zM456 295h1v2h-1zM440 279h1v1h-1zM1066 323h1v1h-1zM174 165h1v1h-1zM588 299h1v1h-1zM333 198h1v1h-1zM505 292h1v1h-1zM517 284h1v1h-1zM952 450h1v1h-1zM1050 338h1v1h-1zM93 212h1v1h-1zM269 127h1v1h-1zM120 193h1v1h-1zM448 287h1v1h-1zM820 406h1v1h-1zM270 128h1v1h-1zM710 400h1v1h-1zM577 288h1v1h-1zM636 343h1v1h-1zM77 227h1v1h-1zM876 459h1v1h-1zM155 183h1v1h-1zM651 359h1v1h-1zM621 327h1v1h-1zM838 423h1v1h-1zM396 227h1v1h-1zM857 445h1v1h-1zM964 437h1v1h-1zM1011 368h1v2h-1zM643 351h1v1h-1zM418 251h1v1h-1zM277 135h1v1h-1zM53 256h1v1h-1zM291 155h1v1h-1zM759 409h1v1h-1zM658 366h1v1h-1zM959 443h1v1h-1zM628 334h1v1h-1zM845 429h1v2h-1zM57 253h1v1h-1zM991 395h1v1h-1zM292 156h1v1h-1zM69 236h1v1h-1zM1115 327h1v1h-1zM650 358h1v1h-1zM846 431h1v1h-1zM1019 359h1v1h-1zM428 263h1v1h-1zM635 342h1v1h-1zM614 318h1v2h-1zM215 146h1v1h-1zM377 217h1v1h-1zM429 264h1v1h-1zM44 264h1v1h-1zM1054 334h1v1h-1zM668 375h1v1h-1zM947 455h1v1h-1zM162 176h1v1h-1zM967 433h1v1h-1zM165 172h1v1h-1zM936 464h1v1h-1zM454 293h1v1h-1zM657 365h1v1h-1zM455 294h1v1h-1zM265 124h1v1h-1zM444 284h1v1h-1zM987 401h1v1h-1zM627 333h1v1h-1zM266 125h1v1h-1zM606 310h1v1h-1zM999 384h1v1h-1zM576 287h1v1h-1zM982 408h1v1h-1zM695 387h1v1h-1zM328 194h1v1h-1zM994 391h1v1h-1zM1061 328h1v1h-1zM219 143h1v1h-1zM856 444h1v1h-1zM48 261h1v1h-1zM302 168h1v1h-1zM613 317h1v1h-1zM276 134h1v1h-1zM583 294h1v1h-1zM84 220h1v1h-1zM169 169h1v1h-1zM954 448h1v1h-1zM235 132h1v1h-1zM442 282h1v1h-1zM1002 381h1v1h-1zM399 230h1v2h-1zM320 185h1v1h-1zM443 283h1v1h-1zM321 186h1v1h-1zM927 472h1v1h-1zM294 158h1v2h-1zM705 395h1v1h-1zM931 469h1v1h-1zM406 238h1v1h-1zM646 354h1v1h-1zM966 434h1v2h-1zM421 254h1v1h-1zM849 435h1v1h-1zM1068 321h1v1h-1zM301 167h1v1h-1zM431 267h1v1h-1zM76 228h1v1h-1zM413 246h1v1h-1zM1072 318h1v1h-1zM102 204h1v1h-1zM712 402h1v1h-1zM432 268h1v1h-1zM970 428h1v1h-1zM859 448h1v1h-1zM1052 336h1v1h-1zM713 403h1v1h-1zM653 361h1v1h-1zM769 402h1v1h-1zM457 297h1v1h-1zM95 210h1v1h-1zM951 451h1v1h-1zM623 329h1v1h-1zM398 229h1v1h-1zM308 174h1v1h-1zM1021 357h1v1h-1zM279 137h1v2h-1zM52 257h1v1h-1zM645 353h1v1h-1zM624 330h1v1h-1zM420 253h1v1h-1zM309 175h1v1h-1zM280 139h1v1h-1zM949 453h1v1h-1zM79 225h1v1h-1zM405 237h1v1h-1zM938 462h1v1h-1zM293 157h1v1h-1zM848 434h1v1h-1zM593 302h1v1h-1zM449 288h1v1h-1zM615 320h1v1h-1zM1010 370h1v1h-1zM1013 366h1v1h-1zM822 408h1v1h-1zM637 344h1v1h-1zM616 321h1v1h-1zM272 130h1v1h-1zM885 464h1v1h-1zM981 409h1v2h-1zM282 142h1v2h-1zM638 345h1v1h-1zM59 251h1v1h-1zM622 328h1v1h-1zM973 423h1v2h-1zM397 228h1v1h-1zM958 444h1v1h-1zM71 234h1v1h-1zM283 144h1v1h-1zM1063 326h1v1h-1zM245 126h1v1h-1zM39 268h1v1h-1zM1116 328h1v1h-1zM977 416h1v2h-1zM86 218h1v1h-1zM629 335h1v1h-1zM608 312h1v1h-1zM43 265h1v1h-1zM271 129h1v1h-1zM578 289h1v1h-1zM630 336h1v1h-1zM164 173h1v1h-1zM210 149h1v1h-1zM652 360h1v1h-1zM159 180h1v1h-1zM62 247h1v1h-1zM74 230h1v1h-1zM316 181h1v1h-1zM1001 382h1v1h-1zM933 467h1v1h-1zM278 136h1v1h-1zM281 140h1v2h-1zM607 311h1v1h-1zM961 440h1v1h-1zM586 297h1v1h-1zM659 367h1v1h-1zM993 392h1v1h-1zM221 141h1v1h-1zM445 285h1v1h-1zM817 404h1v1h-1zM50 259h1v1h-1zM1060 329h1v1h-1zM323 188h1v1h-1zM510 289h1v1h-1zM225 138h1v1h-1zM956 446h1v1h-1zM850 436h1v2h-1zM171 167h1v1h-1zM408 240h1v2h-1zM329 195h1v1h-1zM873 457h1v1h-1zM97 208h1v1h-1zM953 449h1v1h-1zM851 438h1v1h-1zM1058 331h1v1h-1zM330 196h1v1h-1zM433 269h1v2h-1zM1047 340h1v1h-1zM824 410h1v2h-1zM101 205h1v1h-1zM1004 378h1v1h-1zM303 169h1v1h-1zM434 271h1v1h-1zM825 412h1v1h-1zM700 390h1v1h-1zM1051 337h1v1h-1zM81 223h1v1h-1zM584 295h1v1h-1zM836 421h1v1h-1zM415 248h1v1h-1zM640 348h1v1h-1zM304 170h1v1h-1zM1112 325h1v1h-1zM984 405h1v1h-1zM1020 358h1v1h-1zM996 388h1v1h-1zM285 147h1v1h-1zM585 296h1v1h-1zM400 232h1v1h-1zM872 456h1v1h-1zM401 233h1v1h-1zM310 176h1v1h-1zM322 187h1v1h-1zM78 226h1v1h-1zM937 463h1v1h-1zM707 397h1v1h-1zM1067 322h1v1h-1zM311 177h1v1h-1zM295 160h1v1h-1zM104 202h1v1h-1zM407 239h1v1h-1zM296 161h1v1h-1zM1023 355h1v1h-1zM768 403h1v1h-1zM1108 322h1v1h-1zM980 411h1v1h-1zM414 247h1v1h-1zM666 373h1v1h-1zM1111 324h1v1h-1zM65 242h1v1h-1zM1027 352h1v1h-1zM940 460h1v1h-1z" fill="#ff0000"/>
<path d="M98 155h2v1h-2zM95 157h2v1h-2zM149 214h10v1h-10zM307 214h2v1h-2zM683 429h2v1h-2zM604 338h2v1h-2zM631 338h2v1h-2zM25 276h2v1h-2zM29 276h2v1h-2zM685 430h2v1h-2zM699 430h2v1h-2zM422 297h2v1h-2zM12 271h2v1h-2zM36 271h2v1h-2zM205 99h17v1h-17zM286 203h2v1h-2zM324 203h11v1h-11zM353 203h2v1h-2zM17 273h2v1h-2zM1012 312h2v1h-2zM1028 312h2v1h-2zM319 206h2v1h-2zM893 478h2v1h-2zM452 326h3v1h-3zM731 401h2v1h-2zM1046 332h2v1h-2zM1065 332h2v1h-2zM339 201h12v1h-12zM446 323h2v1h-2zM720 407h2v1h-2zM594 345h2v1h-2zM687 431h2v1h-2zM697 431h2v1h-2zM1014 311h2v1h-2zM1026 311h2v1h-2zM1106 311h2v1h-2zM335 202h4v1h-4zM351 202h2v1h-2zM1099 307h2v1h-2zM1018 309h2v1h-2zM1022 309h2v1h-2zM1103 309h2v1h-2zM809 410h4v1h-4zM737 398h2v1h-2zM611 335h6v1h-6zM623 335h4v1h-4zM1050 335h2v1h-2zM1055 335h4v1h-4zM606 337h3v1h-3zM629 337h2v1h-2zM480 301h2v1h-2zM874 493h2v1h-2zM746 392h2v1h-2zM755 392h3v1h-3zM788 392h2v1h-2zM305 213h2v1h-2zM309 213h2v1h-2zM14 272h3v1h-3zM222 98h2v1h-2zM689 432h2v1h-2zM694 432h3v1h-3zM617 334h6v1h-6zM1059 334h3v1h-3zM302 212h3v1h-3zM691 433h3v1h-3zM597 343h2v1h-2zM22 275h3v1h-3zM762 389h2v1h-2zM766 389h3v1h-3zM777 389h2v1h-2zM782 389h2v1h-2zM729 402h2v1h-2zM426 300h2v1h-2zM942 437h2v1h-2zM899 475h2v1h-2zM601 340h2v1h-2zM634 340h2v1h-2zM749 390h2v1h-2zM760 390h2v1h-2zM769 390h2v1h-2zM774 390h3v1h-3zM784 390h2v1h-2zM590 347h2v1h-2zM4 267h2v1h-2zM448 324h2v1h-2zM679 426h2v1h-2zM450 325h2v1h-2zM1094 305h3v1h-3zM10 270h2v1h-2zM1016 310h2v1h-2zM1024 310h2v1h-2zM1097 306h2v1h-2zM866 494h2v1h-2zM872 494h2v1h-2zM483 299h2v1h-2zM735 399h2v1h-2zM936 441h2v1h-2zM1067 331h2v1h-2zM455 327h4v1h-4zM870 495h2v1h-2zM862 491h2v1h-2zM804 411h5v1h-5zM723 405h2v1h-2zM725 404h2v1h-2zM293 207h2v1h-2zM317 207h2v1h-2zM359 207h2v1h-2zM592 346h2v1h-2zM764 388h2v1h-2zM779 388h3v1h-3zM27 277h2v1h-2zM751 391h4v1h-4zM758 391h2v1h-2zM771 391h3v1h-3zM786 391h2v1h-2zM733 400h2v1h-2zM8 269h2v1h-2zM920 455h2v1h-2zM882 487h2v1h-2zM19 274h3v1h-3zM32 274h2v1h-2zM224 97h2v1h-2zM717 409h2v1h-2zM727 403h2v1h-2zM609 336h2v1h-2zM627 336h2v1h-2zM1052 336h3v1h-3zM739 397h2v1h-2zM1092 304h2v1h-2zM742 395h2v1h-2zM288 204h2v1h-2zM322 204h2v1h-2zM355 204h2v1h-2zM588 348h2v1h-2zM300 211h2v1h-2zM477 303h2v1h-2zM1020 308h2v1h-2zM1101 308h2v1h-2zM946 434h2v1h-2zM878 490h2v1h-2zM6 268h2v1h-2zM295 208h2v1h-2zM226 96h2v1h-2zM933 443h2v1h-2zM459 328h2v1h-2zM897 476h2v1h-2zM939 439h2v1h-2zM298 210h2v1h-2zM313 210h2v1h-2zM290 205h2v1h-2zM1062 333h3v1h-3zM888 482h2v1h-2zM895 477h2v1h-2zM261 152h1v2h-1zM83 172h1v3h-1zM178 155h1v2h-1zM38 270h1v1h-1zM61 233h1v4h-1zM106 148h1v1h-1zM986 356h1v3h-1zM550 282h1v2h-1zM513 243h1v2h-1zM640 347h1v2h-1zM532 256h1v1h-1zM202 103h1v1h-1zM798 403h1v1h-1zM579 336h1v2h-1zM856 484h1v1h-1zM170 178h1v4h-1zM661 397h1v2h-1zM86 166h1v2h-1zM965 409h1v2h-1zM409 280h1v1h-1zM169 182h1v4h-1zM377 228h1v2h-1zM493 279h1v2h-1zM706 423h1v1h-1zM575 330h1v2h-1zM914 461h1v1h-1zM173 168h1v3h-1zM1074 323h1v2h-1zM981 370h1v2h-1zM461 326h1v2h-1zM820 426h1v1h-1zM957 422h1v2h-1zM268 169h1v2h-1zM399 261h1v2h-1zM568 318h1v2h-1zM381 235h1v1h-1zM177 157h1v3h-1zM402 267h1v2h-1zM232 102h1v2h-1zM985 359h1v3h-1zM46 260h1v1h-1zM657 386h1v3h-1zM49 256h1v1h-1zM842 458h1v2h-1zM124 170h1v2h-1zM952 428h1v2h-1zM392 249h1v2h-1zM701 429h1v1h-1zM845 463h1v2h-1zM1009 316h1v1h-1zM190 123h1v2h-1zM127 175h1v2h-1zM233 104h1v2h-1zM964 411h1v2h-1zM254 136h1v2h-1zM890 481h1v1h-1zM561 304h1v2h-1zM1085 311h1v1h-1zM74 194h1v3h-1zM120 162h1v2h-1zM797 401h1v2h-1zM62 230h1v3h-1zM265 162h1v2h-1zM283 199h1v2h-1zM247 124h1v2h-1zM41 266h1v1h-1zM714 413h1v1h-1zM646 357h1v3h-1zM980 372h1v3h-1zM229 96h1v2h-1zM902 473h1v1h-1zM250 129h1v1h-1zM664 403h1v3h-1zM66 217h1v3h-1zM654 378h1v3h-1zM1108 312h1v1h-1zM78 184h1v3h-1zM1004 322h1v1h-1zM56 245h1v1h-1zM505 257h1v2h-1zM639 345h1v2h-1zM485 297h1v2h-1zM251 130h1v2h-1zM497 271h1v2h-1zM660 394h1v3h-1zM174 166h1v2h-1zM165 197h1v4h-1zM536 262h1v2h-1zM549 281h1v1h-1zM189 125h1v3h-1zM272 179h1v3h-1zM928 448h1v1h-1zM709 419h1v2h-1zM972 391h1v3h-1zM164 201h1v2h-1zM578 335h1v1h-1zM405 273h1v2h-1zM413 286h1v1h-1zM73 197h1v3h-1zM373 221h1v2h-1zM650 368h1v2h-1zM819 424h1v2h-1zM848 469h1v3h-1zM744 394h1v1h-1zM97 156h1v1h-1zM235 108h1v2h-1zM1000 329h1v1h-1zM816 418h1v2h-1zM582 340h1v2h-1zM682 428h1v1h-1zM194 115h1v2h-1zM358 206h1v1h-1zM181 146h1v3h-1zM501 264h1v2h-1zM1077 320h1v1h-1zM504 259h1v2h-1zM564 310h1v2h-1zM859 488h1v1h-1zM992 343h1v2h-1zM398 259h1v2h-1zM524 247h1v1h-1zM101 153h1v1h-1zM90 162h1v1h-1zM239 114h1v1h-1zM841 457h1v1h-1zM391 248h1v1h-1zM123 168h1v2h-1zM790 393h1v1h-1zM473 308h1v1h-1zM1069 330h1v1h-1zM668 412h1v2h-1zM312 211h1v1h-1zM1072 326h1v1h-1zM186 133h1v3h-1zM253 134h1v2h-1zM975 384h1v3h-1zM984 362h1v2h-1zM531 255h1v1h-1zM996 336h1v1h-1zM274 184h1v3h-1zM468 315h1v1h-1zM642 350h1v2h-1zM445 322h1v1h-1zM85 168h1v2h-1zM909 466h1v1h-1zM117 156h1v2h-1zM663 401h1v2h-1zM492 281h1v3h-1zM643 352h1v1h-1zM535 260h1v2h-1zM800 405h1v2h-1zM172 171h1v3h-1zM516 238h1v1h-1zM297 209h1v1h-1zM65 220h1v3h-1zM801 407h1v1h-1zM380 234h1v1h-1zM1045 331h1v1h-1zM104 150h1v1h-1zM77 187h1v2h-1zM260 149h1v3h-1zM517 239h1v1h-1zM1080 316h1v2h-1zM464 321h1v2h-1zM823 430h1v2h-1zM567 316h1v2h-1zM925 451h1v1h-1zM649 365h1v3h-1zM496 273h1v2h-1zM960 417h1v2h-1zM376 227h1v1h-1zM847 467h1v2h-1zM815 416h1v2h-1zM416 290h1v1h-1zM60 237h1v2h-1zM563 308h1v2h-1zM168 186h1v3h-1zM840 456h1v1h-1zM40 267h1v2h-1zM512 245h1v2h-1zM267 166h1v3h-1zM489 288h1v2h-1zM438 314h1v1h-1zM119 160h1v2h-1zM64 223h1v4h-1zM264 159h1v3h-1zM656 384h1v2h-1zM163 203h1v2h-1zM316 208h1v1h-1zM285 202h1v1h-1zM228 95h1v1h-1zM249 127h1v2h-1zM667 410h1v2h-1zM176 160h1v3h-1zM708 421h1v1h-1zM1111 316h1v2h-1zM971 394h1v2h-1zM115 154h1v1h-1zM638 344h1v1h-1zM916 459h1v1h-1zM538 265h1v2h-1zM641 349h1v1h-1zM364 211h1v1h-1zM81 177h1v3h-1zM1038 323h1v1h-1zM180 149h1v3h-1zM116 155h1v1h-1zM271 176h1v3h-1zM508 252h1v2h-1zM511 247h1v2h-1zM678 425h1v1h-1zM999 330h1v2h-1zM488 290h1v3h-1zM542 271h1v2h-1zM365 212h1v1h-1zM877 491h1v1h-1zM500 266h1v1h-1zM196 111h1v2h-1zM415 289h1v1h-1zM159 211h1v2h-1zM869 496h1v1h-1zM818 422h1v2h-1zM821 427h1v2h-1zM892 479h1v1h-1zM379 232h1v2h-1zM1087 309h1v1h-1zM858 486h1v2h-1zM881 488h1v1h-1zM238 112h1v2h-1zM932 444h1v1h-1zM979 375h1v2h-1zM904 471h1v1h-1zM822 429h1v1h-1zM372 220h1v1h-1zM566 314h1v2h-1zM257 143h1v2h-1zM401 265h1v2h-1zM1003 323h1v2h-1zM885 485h1v1h-1zM383 238h1v1h-1zM983 364h1v3h-1zM507 254h1v2h-1zM234 106h1v2h-1zM995 337h1v2h-1zM963 413h1v1h-1zM476 304h1v1h-1zM844 461h1v2h-1zM231 100h1v2h-1zM108 146h1v1h-1zM397 257h1v2h-1zM670 416h1v1h-1zM560 302h1v2h-1zM118 158h1v2h-1zM923 453h1v1h-1zM394 252h1v1h-1zM1031 314h1v2h-1zM72 200h1v2h-1zM88 164h1v1h-1zM982 367h1v3h-1zM76 189h1v3h-1zM534 259h1v1h-1zM799 404h1v1h-1zM1110 315h1v1h-1zM967 404h1v3h-1zM193 117h1v2h-1zM645 355h1v2h-1zM537 264h1v1h-1zM677 424h1v1h-1zM1079 318h1v1h-1zM991 345h1v2h-1zM68 210h1v3h-1zM959 419h1v2h-1zM495 275h1v2h-1zM59 239h1v2h-1zM803 409h1v2h-1zM382 236h1v2h-1zM599 342h1v1h-1zM659 392h1v2h-1zM63 227h1v3h-1zM75 192h1v2h-1zM84 170h1v2h-1zM817 420h1v2h-1zM825 433h1v2h-1zM375 225h1v2h-1zM48 257h1v1h-1zM951 430h1v1h-1zM954 426h1v1h-1zM378 230h1v2h-1zM467 316h1v2h-1zM581 339h1v1h-1zM603 339h1v1h-1zM171 174h1v4h-1zM256 140h1v3h-1zM430 303h1v2h-1zM829 439h1v2h-1zM400 263h1v2h-1zM230 98h1v2h-1zM175 163h1v3h-1zM1006 319h1v2h-1zM277 191h1v2h-1zM1109 313h1v2h-1zM440 316h1v2h-1zM43 263h1v2h-1zM716 410h1v1h-1zM814 414h1v2h-1zM419 293h1v2h-1zM515 239h1v2h-1zM843 460h1v1h-1zM648 362h1v3h-1zM80 180h1v2h-1zM55 246h1v2h-1zM666 408h1v2h-1zM792 395h1v2h-1zM188 128h1v2h-1zM393 251h1v1h-1zM441 318h1v1h-1zM930 446h1v1h-1zM242 117h1v2h-1zM559 300h1v2h-1zM487 293h1v2h-1zM1113 319h1v2h-1zM1030 313h1v1h-1zM865 493h1v1h-1zM527 250h1v1h-1zM540 268h1v2h-1zM499 267h1v2h-1zM158 213h1v1h-1zM167 189h1v4h-1zM204 100h1v1h-1zM533 257h1v2h-1zM490 286h1v2h-1zM541 270h1v1h-1zM644 353h1v2h-1zM978 377h1v2h-1zM1041 327h1v1h-1zM31 275h1v1h-1zM51 253h1v1h-1zM67 213h1v4h-1zM148 212h1v2h-1zM92 160h1v1h-1zM503 261h1v1h-1zM187 130h1v3h-1zM259 147h1v2h-1zM162 205h1v2h-1zM658 389h1v3h-1zM35 272h1v1h-1zM270 174h1v2h-1zM475 305h1v2h-1zM71 202h1v3h-1zM414 287h1v2h-1zM69 207h1v3h-1zM824 432h1v1h-1zM374 223h1v2h-1zM832 444h1v2h-1zM166 193h1v4h-1zM970 396h1v3h-1zM651 370h1v3h-1zM861 490h1v1h-1zM519 241h1v1h-1zM311 212h1v1h-1zM911 464h1v1h-1zM1071 327h1v1h-1zM846 465h1v2h-1zM396 255h1v2h-1zM990 347h1v2h-1zM669 414h1v2h-1zM828 438h1v1h-1zM633 339h1v1h-1zM525 248h1v1h-1zM584 343h1v1h-1zM966 407h1v2h-1zM562 306h1v2h-1zM121 164h1v2h-1zM195 113h1v2h-1zM266 164h1v2h-1zM526 249h1v1h-1zM665 406h1v2h-1zM673 419h1v2h-1zM494 277h1v2h-1zM791 394h1v1h-1zM655 381h1v3h-1zM241 116h1v1h-1zM973 389h1v2h-1zM558 298h1v2h-1zM1082 314h1v1h-1zM482 300h1v1h-1zM938 440h1v1h-1zM927 449h1v1h-1zM103 151h1v1h-1zM1040 325h1v2h-1zM463 323h1v1h-1zM876 492h1v1h-1zM466 318h1v2h-1zM962 414h1v2h-1zM1002 325h1v2h-1zM428 301h1v1h-1zM139 197h1v2h-1zM54 248h1v2h-1zM147 210h1v2h-1zM183 141h1v3h-1zM258 145h1v2h-1zM802 408h1v1h-1zM39 269h1v1h-1zM583 342h1v1h-1zM860 489h1v1h-1zM994 339h1v2h-1zM518 240h1v1h-1zM429 302h1v1h-1zM269 171h1v3h-1zM470 312h1v1h-1zM82 175h1v2h-1zM506 256h1v1h-1zM918 457h1v1h-1zM813 412h1v2h-1zM240 115h1v1h-1zM707 422h1v1h-1zM395 253h1v2h-1zM58 241h1v2h-1zM203 101h1v2h-1zM510 249h1v2h-1zM385 240h1v1h-1zM998 332h1v2h-1zM1112 318h1v1h-1zM87 165h1v1h-1zM887 483h1v1h-1zM502 262h1v2h-1zM1089 307h1v1h-1zM1116 324h1v1h-1zM969 399h1v2h-1zM161 207h1v2h-1zM198 108h1v1h-1zM539 267h1v1h-1zM70 205h1v2h-1zM891 480h1v1h-1zM555 292h1v2h-1zM880 489h1v1h-1zM1039 324h1v1h-1zM262 154h1v3h-1zM722 406h1v1h-1zM1070 328h1v2h-1zM853 480h1v1h-1zM432 306h1v2h-1zM135 190h1v2h-1zM143 204h1v1h-1zM989 349h1v2h-1zM827 436h1v2h-1zM486 295h1v2h-1zM835 449h1v2h-1zM748 391h1v1h-1zM498 269h1v2h-1zM569 320h1v2h-1zM42 265h1v1h-1zM968 401h1v3h-1zM136 192h1v1h-1zM514 241h1v2h-1zM977 379h1v3h-1zM417 291h1v1h-1zM1105 310h1v1h-1zM922 454h1v1h-1zM831 443h1v1h-1zM276 189h1v2h-1zM439 315h1v1h-1zM418 292h1v1h-1zM812 411h1v1h-1zM110 148h1v1h-1zM710 418h1v1h-1zM528 251h1v2h-1zM741 396h1v1h-1zM94 158h1v1h-1zM557 296h1v2h-1zM462 324h1v2h-1zM280 195h1v2h-1zM243 119h1v1h-1zM906 469h1v1h-1zM1115 322h1v2h-1zM1032 316h1v1h-1zM529 253h1v1h-1zM424 298h1v1h-1zM50 254h1v2h-1zM672 418h1v1h-1zM1001 327h1v2h-1zM653 376h1v2h-1zM956 424h1v1h-1zM702 428h1v1h-1zM182 144h1v2h-1zM705 424h1v1h-1zM543 273h1v1h-1zM366 213h1v1h-1zM425 299h1v1h-1zM953 427h1v1h-1zM554 290h1v2h-1zM1086 310h1v1h-1zM406 275h1v2h-1zM469 313h1v2h-1zM852 478h1v2h-1zM185 136h1v2h-1zM142 202h1v2h-1zM830 441h1v2h-1zM45 261h1v1h-1zM849 472h1v2h-1zM131 183h1v2h-1zM1005 321h1v1h-1zM57 243h1v2h-1zM1008 317h1v1h-1zM431 305h1v1h-1zM520 242h1v2h-1zM410 281h1v2h-1zM826 435h1v1h-1zM997 334h1v2h-1zM384 239h1v1h-1zM586 345h1v2h-1zM834 447h1v2h-1zM1084 312h1v1h-1zM521 244h1v1h-1zM929 447h1v1h-1zM944 436h1v1h-1zM713 414h1v1h-1zM435 310h1v2h-1zM988 351h1v3h-1zM109 147h1v1h-1zM671 417h1v1h-1zM275 187h1v2h-1zM160 209h1v2h-1zM745 393h1v1h-1zM53 250h1v2h-1zM793 397h1v1h-1zM279 194h1v1h-1zM201 104h1v1h-1zM647 360h1v2h-1zM442 319h1v1h-1zM913 462h1v1h-1zM993 341h1v2h-1zM794 398h1v1h-1zM321 205h1v1h-1zM145 207h1v2h-1zM1073 325h1v1h-1zM976 382h1v2h-1zM571 324h1v2h-1zM1042 328h1v1h-1zM138 195h1v2h-1zM89 163h1v1h-1zM369 217h1v1h-1zM572 326h1v1h-1zM1043 329h1v1h-1zM901 474h1v1h-1zM134 188h1v2h-1zM1091 305h1v1h-1zM948 433h1v1h-1zM197 109h1v2h-1zM833 446h1v1h-1zM278 193h1v1h-1zM420 295h1v1h-1zM105 149h1v1h-1zM509 251h1v1h-1zM1081 315h1v1h-1zM1114 321h1v1h-1zM184 138h1v3h-1zM1034 318h1v2h-1zM465 320h1v1h-1zM674 421h1v1h-1zM556 294h1v2h-1zM1035 320h1v1h-1zM1076 321h1v1h-1zM545 275h1v2h-1zM553 288h1v2h-1zM924 452h1v1h-1zM472 309h1v2h-1zM851 476h1v2h-1zM141 200h1v2h-1zM854 481h1v2h-1zM546 277h1v1h-1zM144 205h1v2h-1zM1011 313h1v1h-1zM570 322h1v2h-1zM712 415h1v2h-1zM987 354h1v2h-1zM855 483h1v1h-1zM137 193h1v2h-1zM836 451h1v1h-1zM386 241h1v2h-1zM908 467h1v1h-1zM315 209h1v1h-1zM130 181h1v2h-1zM837 452h1v1h-1zM387 243h1v1h-1zM704 425h1v2h-1zM585 344h1v1h-1zM596 344h1v1h-1zM112 150h1v2h-1zM1088 308h1v1h-1zM361 208h1v1h-1zM905 470h1v1h-1zM47 258h1v2h-1zM281 197h1v1h-1zM263 157h1v2h-1zM1049 334h1v1h-1zM652 373h1v3h-1zM282 198h1v1h-1zM246 123h1v1h-1zM368 215h1v2h-1zM544 274h1v1h-1zM552 286h1v2h-1zM715 411h1v2h-1zM573 327h1v2h-1zM850 474h1v2h-1zM100 154h1v1h-1zM44 262h1v1h-1zM408 278h1v2h-1zM140 199h1v1h-1zM574 329h1v1h-1zM133 186h1v2h-1zM577 333h1v2h-1zM179 152h1v3h-1zM404 271h1v2h-1zM200 105h1v2h-1zM433 308h1v1h-1zM412 285h1v1h-1zM192 119h1v2h-1zM93 159h1v1h-1zM434 309h1v1h-1zM600 341h1v1h-1zM357 205h1v1h-1zM126 173h1v2h-1zM245 121h1v2h-1zM523 246h1v1h-1zM1033 317h1v1h-1zM52 252h1v1h-1zM111 149h1v1h-1zM955 425h1v1h-1zM912 463h1v1h-1zM390 247h1v1h-1zM903 472h1v1h-1zM530 254h1v1h-1zM795 399h1v1h-1zM884 486h1v1h-1zM950 431h1v1h-1zM917 458h1v1h-1zM411 283h1v2h-1zM548 279h1v2h-1zM367 214h1v1h-1zM796 400h1v1h-1zM107 147h1v1h-1zM974 387h1v2h-1zM931 445h1v1h-1zM1083 313h1v1h-1zM407 277h1v1h-1zM479 302h1v1h-1zM129 179h1v2h-1zM935 442h1v1h-1zM132 185h1v1h-1zM491 284h1v2h-1zM915 460h1v1h-1zM719 408h1v1h-1zM587 347h1v1h-1zM958 421h1v1h-1zM1048 333h1v1h-1zM122 166h1v2h-1zM255 138h1v2h-1zM292 206h1v1h-1zM252 132h1v2h-1zM244 120h1v1h-1zM1010 314h1v2h-1zM273 182h1v2h-1zM444 321h1v1h-1zM1075 322h1v1h-1zM248 126h1v1h-1zM662 399h1v2h-1zM471 311h1v1h-1zM637 342h1v2h-1zM79 182h1v2h-1zM1037 322h1v1h-1zM1007 318h1v1h-1zM146 209h1v1h-1zM191 121h1v2h-1zM551 284h1v2h-1zM403 269h1v2h-1zM907 468h1v1h-1zM838 453h1v2h-1zM128 177h1v2h-1zM522 245h1v1h-1zM1044 330h1v1h-1zM681 427h1v1h-1zM436 312h1v1h-1zM703 427h1v1h-1zM857 485h1v1h-1zM839 455h1v1h-1zM389 245h1v2h-1zM565 312h1v2h-1zM1078 319h1v1h-1zM371 219h1v1h-1zM437 313h1v1h-1zM421 296h1v1h-1zM926 450h1v1h-1zM102 152h1v1h-1zM91 161h1v1h-1zM125 172h1v1h-1zM443 320h1v1h-1zM114 153h1v1h-1zM474 307h1v1h-1zM919 456h1v1h-1zM284 201h1v1h-1zM711 417h1v1h-1zM910 465h1v1h-1zM868 495h1v1h-1zM547 278h1v1h-1zM370 218h1v1h-1zM1090 306h1v1h-1zM576 332h1v1h-1zM199 107h1v1h-1zM580 338h1v1h-1zM886 484h1v1h-1zM236 110h1v1h-1zM941 438h1v1h-1zM388 244h1v1h-1zM237 111h1v1h-1zM113 152h1v1h-1zM945 435h1v1h-1zM675 422h1v1h-1zM362 209h1v1h-1zM1036 321h1v1h-1zM34 273h1v1h-1zM961 416h1v1h-1zM636 341h1v1h-1zM676 423h1v1h-1zM949 432h1v1h-1zM864 492h1v1h-1zM363 210h1v1h-1z" fill="#0000d0"/>
</g>
<rect x="4" y="431" width="6" height="7" fill="#0000ff"/>
<rect x="6" y="434" width="1" height="1" fill="#fff"/>
<rect x="1413" y="431" width="7" height="7" fill="#0000ff"/>
<rect x="1416" y="434" width="1" height="1" fill="#fff"/>
<rect x="4" y="544" width="6" height="7" fill="#0000ff"/>
<rect x="6" y="547" width="1" height="1" fill="#fff"/>
<rect x="1413" y="544" width="7" height="7" fill="#0000ff"/>
<rect x="1416" y="547" width="1" height="1" fill="#fff"/>
<rect x="4" y="613" width="1" height="13" fill="#c0c0c0"/>
<rect x="12" y="613" width="1" height="16" fill="#c0c0c0"/>
<rect x="20" y="613" width="1" height="14" fill="#c0c0c0"/>
<rect x="28" y="613" width="1" height="12" fill="#c0c0c0"/>
<rect x="36" y="613" width="1" height="6" fill="#c0c0c0"/>
<rect x="44" y="613" width="1" height="1" fill="#c0c0c0"/>
<rect x="52" y="611" width="1" height="3" fill="#c0c0c0"/>
<rect x="60" y="605" width="1" height="9" fill="#c0c0c0"/>
<rect x="68" y="595" width="1" height="19" fill="#c0c0c0"/>
<rect x="76" y="589" width="1" height="25" fill="#c0c0c0"/>
<rect x="84" y="585" width="1" height="29" fill="#c0c0c0"/>
<rect x="92" y="581" width="1" height="33" fill="#c0c0c0"/>
<rect x="100" y="581" width="1" height="33" fill="#c0c0c0"/>
<rect x="108" y="583" width="1" height="31" fill="#c0c0c0"/>
<rect x="116" y="590" width="1" height="24" fill="#c0c0c0"/>
<rect x="124" y="596" width="1" height="18" fill="#c0c0c0"/>
<rect x="132" y="600" width="1" height="14" fill="#c0c0c0"/>
<rect x="140" y="605" width="1" height="9" fill="#c0c0c0"/>
<rect x="148" y="607" width="1" height="7" fill="#c0c0c0"/>
<rect x="156" y="603" width="1" height="11" fill="#c0c0c0"/>
<rect x="164" y="594" width="1" height="20" fill="#c0c0c0"/>
<rect x="172" y="585" width="1" height="29" fill="#c0c0c0"/>
<rect x="180" y="578" width="1" height="36" fill="#c0c0c0"/>
<rect x="188" y="575" width="1" height="39" fill="#c0c0c0"/>
<rect x="196" y="572" width="1" height="42" fill="#c0c0c0"/>
<rect x="204" y="572" width="1" height="42" fill="#c0c0c0"/>
<rect x="212" y="571" width="1" height="43" fill="#c0c0c0"/>
<rect x="220" y="572" width="1" height="42" fill="#c0c0c0"/>
<rect x="228" y="580" width="1" height="34" fill="#c0c0c0"/>
<rect x="236" y="586" width="1" height="28" fill="#c0c0c0"/>
<rect x="244" y="591" width="1" height="23" fill="#c0c0c0"/>
<rect x="252" y="596" width="1" height="18" fill="#c0c0c0"/>
<rect x="260" y="605" width="1" height="9" fill="#c0c0c0"/>
<rect x="268" y="612" width="1" height="2" fill="#c0c0c0"/>
<rect x="276" y="613" width="1" height="4" fill="#c0c0c0"/>
<rect x="284" y="613" width="1" height="9" fill="#c0c0c0"/>
<rect x="292" y="613" width="1" height="9" fill="#c0c0c0"/>
<rect x="300" y="613" width="1" height="9" fill="#c0c0c0"/>
<rect x="308" y="613" width="1" height="9" fill="#c0c0c0"/>
<rect x="316" y="613" width="1" height="7" fill="#c0c0c0"/>
<rect x="324" y="613" width="1" height="7" fill="#c0c0c0"/>
<rect x="332" y="613" width="1" height="11" fill="#c0c0c0"/>
<rect x="340" y="613" width="1" height="13" fill="#c0c0c0"/>
<rect x="348" y="613" width="1" height="11" fill="#c0c0c0"/>
<rect x="356" y="613" width="1" height="13" fill="#c0c0c0"/>
<rect x="364" y="613" width="1" height="15" fill="#c0c0c0"/>
<rect x="372" y="613" width="1" height="17" fill="#c0c0c0"/>
<rect x="380" y="613" width="1" height="23" fill="#c0c0c0"/>
<rect x="388" y="613" width="1" height="27" fill="#c0c0c0"/>
<rect x="396" y="613" width="1" height="32" fill="#c0c0c0"/>
<rect x="404" y="613" width="1" height="36" fill="#c0c0c0"/>
<rect x="412" y="613" width="1" height="37" fill="#c0c0c0"/>
<rect x="420" y="613" width="1" height="37" fill="#c0c0c0"/>
<rect x="428" y="613" width="1" height="36" fill="#c0c0c0"/>
<rect x="436" y="613" width="1" height="43" fill="#c0c0c0"/>
<rect x="444" y="613" width="1" height="46" fill="#c0c0c0"/>
<rect x="452" y="613" width="1" height="45" fill="#c0c0c0"/>
<rect x="460" y="613" width="1" height="45" fill="#c0c0c0"/>
<rect x="468" y="613" width="1" height="31" fill="#c0c0c0"/>
<rect x="476" y="613" width="1" height="25" fill="#c0c0c0"/>
<rect x="484" y="613" width="1" height="19" fill="#c0c0c0"/>
<rect x="492" y="613" width="1" height="17" fill="#c0c0c0"/>
<rect x="500" y="613" width="1" height="11" fill="#c0c0c0"/>
<rect x="508" y="613" width="1" height="8" fill="#c0c0c0"/>
<rect x="516" y="613" width="1" height="5" fill="#c0c0c0"/>
<rect x="524" y="613" width="1" height="5" fill="#c0c0c0"/>
<rect x="532" y="613" width="1" height="8" fill="#c0c0c0"/>
<rect x="540" y="613" width="1" height="13" fill="#c0c0c0"/>
<rect x="548" y="613" width="1" height="18" fill="#c0c0c0"/>
<rect x="556" y="613" width="1" height="21" fill="#c0c0c0"/>
<rect x="564" y="613" width="1" height="26" fill="#c0c0c0"/>
<rect x="572" y="613" width="1" height="27" fill="#c0c0c0"/>
<rect x="580" y="613" width="1" height="28" fill="#c0c0c0"/>
<rect x="588" y="613" width="1" height="29" fill="#c0c0c0"/>
<rect x="596" y="613" width="1" height="26" fill="#c0c0c0"/>
<rect x="604" y="613" width="1" height="22" fill="#c0c0c0"/>
<rect x="612" y="613" width="1" height="22" fill="#c0c0c0"/>
<rect x="620" y="613" width="1" height="23" fill="#c0c0c0"/>
<rect x="628" y="613" width="1" height="24" fill="#c0c0c0"/>
<rect x="636" y="613" width="1" height="27" fill="#c0c0c0"/>
<rect x="644" y="613" width="1" height="36" fill="#c0c0c0"/>
<rect x="652" y="613" width="1" height="41" fill="#c0c0c0"/>
<rect x="660" y="613" width="1" height="47" fill="#c0c0c0"/>
<rect x="668" y="613" width="1" height="49" fill="#c0c0c0"/>
<rect x="676" y="613" width="1" height="47" fill="#c0c0c0"/>
<rect x="684" y="613" width="1" height="43" fill="#c0c0c0"/>
<rect x="692" y="613" width="1" height="41" fill="#c0c0c0"/>
<rect x="700" y="613" width="1" height="40" fill="#c0c0c0"/>
<rect x="708" y="613" width="1" height="36" fill="#c0c0c0"/>
<rect x="716" y="613" width="1" height="32" fill="#c0c0c0"/>
<rect x="724" y="613" width="1" height="32" fill="#c0c0c0"/>
<rect x="732" y="613" width="1" height="27" fill="#c0c0c0"/>
<rect x="740" y="613" width="1" height="23" fill="#c0c0c0"/>
<rect x="748" y="613" width="1" height="18" fill="#c0c0c0"/>
<rect x="756" y="613" width="1" height="21" fill="#c0c0c0"/>
<rect x="764" y="613" width="1" height="16" fill="#c0c0c0"/>
<rect x="772" y="613" width="1" height="17" fill="#c0c0c0"/>
<rect x="780" y="613" width="1" height="15" fill="#c0c0c0"/>
<rect x="788" y="613" width="1" height="17" fill="#c0c0c0"/>
<rect x="796" y="613" width="1" height="17" fill="#c0c0c0"/>
<rect x="804" y="613" width="1" height="19" fill="#c0c0c0"/>
<rect x="812" y="613" width="1" height="18" fill="#c0c0c0"/>
<rect x="820" y="613" width="1" height="24" fill="#c0c0c0"/>
<rect x="828" y="613" width="1" height="30" fill="#c0c0c0"/>
<rect x="836" y="613" width="1" height="33" fill="#c0c0c0"/>
<rect x="844" y="613" width="1" height="35" fill="#c0c0c0"/>
<rect x="852" y="613" width="1" height="39" fill="#c0c0c0"/>
<rect x="860" y="613" width="1" height="40" fill="#c0c0c0"/>
<rect x="868" y="613" width="1" height="37" fill="#c0c0c0"/>
<rect x="876" y="613" width="1" height="33" fill="#c0c0c0"/>
<rect x="884" y="613" width="1" height="29" fill="#c0c0c0"/>
<rect x="892" y="613" width="1" height="26" fill="#c0c0c0"/>
<rect x="900" y="613" width="1" height="24" fill="#c0c0c0"/>
<rect x="908" y="613" width="1" height="23" fill="#c0c0c0"/>
<rect x="916" y="613" width="1" height="19" fill="#c0c0c0"/>
<rect x="924" y="613" width="1" height="16" fill="#c0c0c0"/>
<rect x="932" y="613" width="1" height="9" fill="#c0c0c0"/>
<rect x="940" y="613" width="1" height="5" fill="#c0c0c0"/>
<rect x="948" y="613" width="1" height="2" fill="#c0c0c0"/>
<rect x="956" y="613" width="1" height="1" fill="#c0c0c0"/>
<rect x="964" y="607" width="1" height="7" fill="#c0c0c0"/>
<rect x="972" y="598" width="1" height="16" fill="#c0c0c0"/>
<rect x="980" y="589" width="1" height="25" fill="#c0c0c0"/>
<rect x="988" y="582" width="1" height="32" fill="#c0c0c0"/>
<rect x="996" y="577" width="1" height="37" fill="#c0c0c0"/>
<rect x="1004" y="576" width="1" height="38" fill="#c0c0c0"/>
<rect x="1012" y="575" width="1" height="39" fill="#c0c0c0"/>
<rect x="1020" y="577" width="1" height="37" fill="#c0c0c0"/>
<rect x="1028" y="581" width="1" height="33" fill="#c0c0c0"/>
<rect x="1036" y="585" width="1" height="29" fill="#c0c0c0"/>
<rect x="1044" y="586" width="1" height="28" fill="#c0c0c0"/>
<rect x="1052" y="587" width="1" height="27" fill="#c0c0c0"/>
<rect x="1060" y="584" width="1" height="30" fill="#c0c0c0"/>
<rect x="1068" y="581" width="1" height="33" fill="#c0c0c0"/>
<rect x="1076" y="580" width="1" height="34" fill="#c0c0c0"/>
<rect x="1084" y="579" width="1" height="35" fill="#c0c0c0"/>
<rect x="1092" y="581" width="1" height="33" fill="#c0c0c0"/>
<rect x="1100" y="588" width="1" height="26" fill="#c0c0c0"/>
<rect x="1108" y="594" width="1" height="20" fill="#c0c0c0"/>
<rect x="1116" y="600" width="1" height="14" fill="#c0c0c0"/>
<g shape-rendering="crispEdges">
<path d="M538 627h3v1h-3zM562 627h3v1h-3zM568 627h2v1h-2zM154 592h3v1h-3zM190 592h3v1h-3zM430 643h3v1h-3zM502 643h2v1h-2zM658 643h3v1h-3zM754 643h3v1h-3zM917 643h2v1h-2zM214 582h2v1h-2zM1066 582h3v1h-3zM1072 582h3v1h-3zM1078 582h3v1h-3zM1084 582h3v1h-3zM1090 582h3v1h-3zM220 579h3v1h-3zM400 632h2v1h-2zM797 632h2v1h-2zM802 632h3v1h-3zM808 632h3v1h-3zM814 632h3v1h-3zM820 632h3v1h-3zM293 604h2v1h-2zM994 604h2v1h-2zM4 626h3v1h-3zM10 626h3v1h-3zM16 626h3v1h-3zM22 626h3v1h-3zM28 626h3v1h-3zM376 626h2v1h-2zM544 626h3v1h-3zM550 626h3v1h-3zM556 626h3v1h-3zM958 626h2v1h-2zM316 615h2v1h-2zM412 638h3v1h-3zM514 638h2v1h-2zM604 638h3v1h-3zM610 638h3v1h-3zM616 638h3v1h-3zM772 638h3v1h-3zM844 637h3v1h-3zM934 637h3v1h-3zM700 654h3v1h-3zM724 654h3v1h-3zM622 639h3v1h-3zM628 639h3v1h-3zM766 639h3v1h-3zM851 639h2v1h-2zM929 639h2v1h-2zM232 577h3v1h-3zM238 577h3v1h-3zM244 577h2v1h-2zM419 640h2v1h-2zM509 640h2v1h-2zM635 640h2v1h-2zM640 640h3v1h-3zM761 640h2v1h-2zM95 600h2v1h-2zM287 600h2v1h-2zM1000 600h2v1h-2zM712 656h3v1h-3zM779 636h2v1h-2zM839 636h2v1h-2zM118 590h3v1h-3zM142 590h2v1h-2zM196 590h3v1h-3zM77 611h2v1h-2zM59 620h2v1h-2zM328 620h3v1h-3zM970 620h2v1h-2zM424 641h2v1h-2zM647 641h2v1h-2zM652 641h2v1h-2zM857 641h2v1h-2zM382 628h3v1h-3zM953 628h2v1h-2zM676 647h2v1h-2zM886 647h3v1h-3zM898 647h3v1h-3zM460 653h3v1h-3zM466 653h3v1h-3zM472 653h2v1h-2zM694 653h3v1h-3zM257 581h2v1h-2zM1036 581h3v1h-3zM1042 581h3v1h-3zM1048 581h3v1h-3zM1054 581h3v1h-3zM1060 581h3v1h-3zM46 623h3v1h-3zM352 623h3v1h-3zM964 623h2v1h-2zM166 594h3v1h-3zM178 594h3v1h-3zM455 652h2v1h-2zM478 652h2v1h-2zM688 652h3v1h-3zM730 652h3v1h-3zM521 634h2v1h-2zM592 634h3v1h-3zM784 634h3v1h-3zM832 634h3v1h-3zM941 634h2v1h-2zM131 588h2v1h-2zM136 588h2v1h-2zM202 588h2v1h-2zM40 624h2v1h-2zM359 624h2v1h-2zM364 624h3v1h-3zM112 591h3v1h-3zM148 591h3v1h-3zM683 651h2v1h-2zM395 631h2v1h-2zM527 631h2v1h-2zM580 631h3v1h-3zM947 631h2v1h-2zM124 589h3v1h-3zM1018 589h2v1h-2zM1102 584h3v1h-3zM1108 584h3v1h-3zM388 629h3v1h-3zM532 629h2v1h-2zM574 629h3v1h-3zM52 622h3v1h-3zM340 622h3v1h-3zM346 622h2v1h-2zM208 585h2v1h-2zM1025 585h2v1h-2zM1114 585h3v1h-3zM172 595h3v1h-3zM281 595h2v1h-2zM443 648h2v1h-2zM491 648h2v1h-2zM742 648h3v1h-3zM892 648h3v1h-3zM862 642h2v1h-2zM922 642h2v1h-2zM706 655h3v1h-3zM718 655h3v1h-3zM406 635h2v1h-2zM598 635h2v1h-2zM334 621h3v1h-3zM107 593h2v1h-2zM160 593h3v1h-3zM185 593h2v1h-2zM496 646h2v1h-2zM880 646h3v1h-3zM904 646h3v1h-3zM34 625h2v1h-2zM370 625h3v1h-3zM664 644h2v1h-2zM868 644h3v1h-3zM262 583h2v1h-2zM1030 583h3v1h-3zM1096 583h3v1h-3zM83 608h2v1h-2zM448 650h3v1h-3zM484 650h3v1h-3zM737 650h2v1h-2zM587 633h2v1h-2zM790 633h3v1h-3zM826 633h3v1h-3zM437 645h2v1h-2zM670 645h2v1h-2zM749 645h2v1h-2zM874 645h3v1h-3zM910 645h3v1h-3zM101 596h2v1h-2zM1006 596h2v1h-2zM976 617h2v1h-2zM311 613h2v1h-2zM64 619h3v1h-3zM299 607h2v1h-2zM322 618h2v1h-2zM226 578h2v1h-2zM250 578h2v1h-2zM268 586h2v1h-2zM305 610h2v1h-2zM228 577h1v1h-1zM586 632h1v1h-1zM310 612h1v1h-1zM1024 586h1v1h-1zM778 637h1v1h-1zM504 642h1v1h-1zM480 651h1v1h-1zM348 623h1v1h-1zM760 641h1v1h-1zM864 643h1v1h-1zM1020 588h1v1h-1zM144 591h1v1h-1zM71 616h1v1h-1zM270 587h1v1h-1zM100 597h1v1h-1zM960 625h1v1h-1zM682 650h1v1h-1zM70 617h1v1h-1zM838 635h1v1h-1zM210 584h1v1h-1zM82 609h1v1h-1zM570 628h1v1h-1zM736 651h1v1h-1zM94 601h1v1h-1zM972 619h1v1h-1zM1002 599h1v1h-1zM678 648h1v1h-1zM748 646h1v1h-1zM274 589h1v1h-1zM928 640h1v1h-1zM1014 591h1v1h-1zM490 649h1v1h-1zM252 579h1v1h-1zM418 639h1v1h-1zM318 616h1v1h-1zM275 590h1v1h-1zM978 616h1v1h-1zM286 599h1v1h-1zM983 612h1v1h-1zM1012 593h1v1h-1zM1013 592h1v1h-1zM378 627h1v1h-1zM436 644h1v1h-1zM42 623h1v1h-1zM796 633h1v1h-1zM940 635h1v1h-1zM204 587h1v1h-1zM946 632h1v1h-1zM1008 595h1v1h-1zM672 646h1v1h-1zM138 589h1v1h-1zM952 629h1v1h-1zM216 581h1v1h-1zM90 603h1v1h-1zM264 584h1v1h-1zM534 628h1v1h-1zM256 580h1v1h-1zM634 639h1v1h-1zM984 611h1v1h-1zM89 604h1v1h-1zM520 635h1v1h-1zM990 606h1v1h-1zM292 603h1v1h-1zM850 638h1v1h-1zM996 603h1v1h-1zM988 608h1v1h-1zM989 607h1v1h-1zM474 652h1v1h-1zM276 591h1v1h-1zM324 619h1v1h-1zM130 589h1v1h-1zM982 613h1v1h-1zM508 641h1v1h-1zM426 642h1v1h-1zM408 636h1v1h-1zM304 609h1v1h-1zM856 640h1v1h-1zM454 651h1v1h-1zM654 642h1v1h-1zM394 630h1v1h-1zM72 615h1v1h-1zM916 644h1v1h-1zM88 605h1v1h-1zM516 637h1v1h-1zM646 640h1v1h-1zM76 612h1v1h-1zM184 594h1v1h-1zM402 633h1v1h-1zM246 578h1v1h-1zM600 636h1v1h-1zM526 632h1v1h-1zM666 645h1v1h-1zM298 606h1v1h-1zM924 641h1v1h-1zM36 624h1v1h-1zM58 621h1v1h-1zM280 594h1v1h-1zM358 623h1v1h-1zM106 594h1v1h-1zM966 622h1v1h-1zM442 647h1v1h-1zM498 645h1v1h-1z" fill="#ff0000"/>
</g>
<line x1="5" y1="710.5" x2="1419" y2="710.5" stroke="#c0c0c0" stroke-width="1" stroke-dasharray="3 3" shape-rendering="crispEdges"/>
<line x1="5" y1="761.5" x2="1419" y2="761.5" stroke="#c0c0c0" stroke-width="1" stroke-dasharray="3 3" shape-rendering="crispEdges"/>
<g shape-rendering="crispEdges">
<path d="M7 753h4v1h-4zM420 753h2v1h-2zM561 753h5v1h-5zM826 753h2v1h-2zM830 753h2v1h-2zM855 753h2v1h-2zM336 746h2v1h-2zM369 746h2v1h-2zM533 746h2v1h-2zM612 746h5v1h-5zM676 746h19v1h-19zM804 746h2v1h-2zM193 720h14v1h-14zM215 720h2v1h-2zM72 714h2v1h-2zM171 714h6v1h-6zM997 714h2v1h-2zM76 716h13v1h-13zM166 716h3v1h-3zM1071 716h4v1h-4zM436 762h2v1h-2zM646 762h3v1h-3zM659 762h4v1h-4zM281 751h4v1h-4zM424 751h2v1h-2zM543 751h4v1h-4zM569 751h2v1h-2zM583 751h4v1h-4zM634 751h2v1h-2zM822 751h2v1h-2zM834 751h2v1h-2zM845 751h2v1h-2zM939 729h6v1h-6zM951 729h4v1h-4zM1038 729h3v1h-3zM490 735h2v1h-2zM494 735h2v1h-2zM742 735h2v1h-2zM123 740h4v1h-4zM292 740h10v1h-10zM351 740h2v1h-2zM525 740h2v1h-2zM776 740h2v1h-2zM876 740h3v1h-3zM896 740h2v1h-2zM913 740h2v1h-2zM1100 740h5v1h-5zM929 728h2v1h-2zM937 728h2v1h-2zM955 728h2v1h-2zM1023 728h2v1h-2zM1041 728h2v1h-2zM488 734h2v1h-2zM496 734h2v1h-2zM744 734h2v1h-2zM921 734h2v1h-2zM334 747h2v1h-2zM371 747h2v1h-2zM535 747h2v1h-2zM617 747h12v1h-12zM695 747h4v1h-4zM863 747h2v1h-2zM164 717h2v1h-2zM1002 717h2v1h-2zM1065 717h6v1h-6zM20 739h9v1h-9zM127 739h4v1h-4zM133 739h2v1h-2zM228 739h5v1h-5zM249 739h4v1h-4zM302 739h3v1h-3zM323 739h2v1h-2zM732 739h2v1h-2zM778 739h2v1h-2zM781 739h2v1h-2zM879 739h4v1h-4zM894 739h2v1h-2zM438 761h3v1h-3zM649 761h2v1h-2zM655 761h4v1h-4zM663 761h4v1h-4zM104 726h2v1h-2zM932 726h2v1h-2zM1047 726h4v1h-4zM70 713h2v1h-2zM177 713h4v1h-4zM972 713h2v1h-2zM995 713h2v1h-2zM116 742h3v1h-3zM137 742h2v1h-2zM772 742h2v1h-2zM785 742h2v1h-2zM795 742h3v1h-3zM872 742h2v1h-2zM900 742h3v1h-3zM1113 742h4v1h-4zM4 752h3v1h-3zM422 752h2v1h-2zM452 752h9v1h-9zM547 752h14v1h-14zM566 752h3v1h-3zM587 752h2v1h-2zM824 752h2v1h-2zM832 752h2v1h-2zM275 750h6v1h-6zM426 750h2v1h-2zM540 750h3v1h-3zM571 750h12v1h-12zM820 750h2v1h-2zM836 750h9v1h-9zM265 748h6v1h-6zM332 748h2v1h-2zM629 748h2v1h-2zM699 748h2v1h-2zM861 748h2v1h-2zM977 711h2v1h-2zM985 711h6v1h-6zM36 722h5v1h-5zM218 722h2v1h-2zM1055 722h2v1h-2zM529 743h2v1h-2zM791 743h4v1h-4zM798 743h2v1h-2zM810 743h2v1h-2zM870 743h2v1h-2zM903 743h4v1h-4zM909 743h2v1h-2zM211 718h2v1h-2zM1004 718h9v1h-9zM1060 718h5v1h-5zM313 736h5v1h-5zM492 736h2v1h-2zM596 736h3v1h-3zM739 736h3v1h-3zM106 727h2v1h-2zM468 727h3v1h-3zM934 727h3v1h-3zM957 727h2v1h-2zM1043 727h4v1h-4zM486 733h2v1h-2zM498 733h2v1h-2zM746 733h3v1h-3zM131 738h2v1h-2zM233 738h16v1h-16zM305 738h2v1h-2zM321 738h2v1h-2zM603 738h2v1h-2zM734 738h3v1h-3zM883 738h11v1h-11zM102 725h2v1h-2zM1051 725h2v1h-2zM338 745h2v1h-2zM366 745h3v1h-3zM703 745h2v1h-2zM802 745h2v1h-2zM806 745h2v1h-2zM866 745h2v1h-2zM207 719h4v1h-4zM213 719h2v1h-2zM511 731h4v1h-4zM925 731h2v1h-2zM1031 731h4v1h-4zM307 737h6v1h-6zM318 737h3v1h-3zM599 737h4v1h-4zM737 737h2v1h-2zM917 737h2v1h-2zM403 759h6v1h-6zM443 759h2v1h-2zM119 741h4v1h-4zM343 741h2v1h-2zM708 741h9v1h-9zM774 741h2v1h-2zM874 741h2v1h-2zM898 741h2v1h-2zM1105 741h8v1h-8zM41 721h4v1h-4zM188 721h5v1h-5zM1015 721h2v1h-2zM356 744h10v1h-10zM719 744h2v1h-2zM788 744h3v1h-3zM800 744h2v1h-2zM808 744h2v1h-2zM868 744h2v1h-2zM907 744h2v1h-2zM476 732h10v1h-10zM500 732h11v1h-11zM1028 732h3v1h-3zM385 756h13v1h-13zM415 756h2v1h-2zM447 756h2v1h-2zM74 715h2v1h-2zM89 715h4v1h-4zM169 715h2v1h-2zM999 715h2v1h-2zM1075 715h10v1h-10zM11 754h2v1h-2zM418 754h2v1h-2zM828 754h2v1h-2zM849 754h2v1h-2zM260 749h5v1h-5zM271 749h4v1h-4zM538 749h2v1h-2zM631 749h2v1h-2zM68 712h2v1h-2zM974 712h3v1h-3zM991 712h4v1h-4zM398 757h3v1h-3zM413 757h2v1h-2zM441 760h2v1h-2zM651 760h4v1h-4zM667 760h2v1h-2zM47 724h2v1h-2zM100 724h2v1h-2zM961 724h2v1h-2zM380 755h5v1h-5zM473 730h2v1h-2zM515 730h2v1h-2zM945 730h6v1h-6zM1035 730h3v1h-3zM979 710h6v1h-6zM401 758h2v1h-2zM409 758h4v1h-4zM644 763h2v1h-2zM13 752h1v2h-1zM1085 716h1v2h-1zM1093 729h1v2h-1zM226 735h1v2h-1zM731 740h1v1h-1zM154 728h1v1h-1zM1096 734h1v1h-1zM63 717h1v1h-1zM761 739h1v2h-1zM54 726h1v1h-1zM589 749h1v2h-1zM255 743h1v1h-1zM149 734h1v1h-1zM222 727h1v2h-1zM537 748h1v1h-1zM787 743h1v1h-1zM286 748h1v1h-1zM1020 725h1v1h-1zM967 719h1v1h-1zM111 733h1v2h-1zM434 758h1v2h-1zM465 735h1v3h-1zM643 761h1v2h-1zM521 736h1v1h-1zM187 720h1v1h-1zM1054 723h1v1h-1zM532 745h1v1h-1zM1095 732h1v2h-1zM112 735h1v1h-1zM115 740h1v2h-1zM430 752h1v2h-1zM373 748h1v1h-1zM522 737h1v1h-1zM1058 720h1v1h-1zM1088 721h1v2h-1zM1091 726h1v2h-1zM1099 738h1v2h-1zM35 724h1v2h-1zM757 746h1v2h-1zM1001 716h1v1h-1zM225 733h1v2h-1zM726 746h1v1h-1zM673 751h1v2h-1zM783 740h1v1h-1zM289 744h1v1h-1zM847 752h1v1h-1zM970 715h1v1h-1zM19 740h1v2h-1zM605 739h1v1h-1zM114 738h1v2h-1zM848 753h1v1h-1zM93 716h1v1h-1zM429 750h1v2h-1zM817 747h1v1h-1zM31 732h1v2h-1zM99 723h1v1h-1zM669 758h1v2h-1zM818 748h1v1h-1zM768 738h1v1h-1zM433 757h1v1h-1zM642 760h1v1h-1zM141 743h1v1h-1zM144 739h1v2h-1zM593 741h1v2h-1zM342 742h1v1h-1zM30 734h1v2h-1zM923 733h1v1h-1zM346 739h1v1h-1zM221 725h1v2h-1zM475 731h1v1h-1zM224 731h1v2h-1zM464 738h1v3h-1zM912 741h1v1h-1zM1019 724h1v1h-1zM528 742h1v1h-1zM916 738h1v1h-1zM854 754h1v1h-1zM58 722h1v1h-1zM258 746h1v2h-1zM156 726h1v1h-1zM259 748h1v1h-1zM748 732h1v1h-1zM1094 731h1v1h-1zM285 749h1v2h-1zM927 730h1v1h-1zM18 742h1v2h-1zM1098 737h1v1h-1zM353 741h1v1h-1zM931 727h1v1h-1zM220 723h1v2h-1zM460 751h1v1h-1zM858 751h1v1h-1zM920 735h1v1h-1zM182 715h1v1h-1zM65 715h1v1h-1zM463 741h1v3h-1zM183 716h1v1h-1zM49 725h1v1h-1zM432 755h1v2h-1zM592 743h1v2h-1zM113 736h1v2h-1zM435 760h1v2h-1zM110 731h1v2h-1zM1014 720h1v1h-1zM50 726h1v1h-1zM1025 729h1v1h-1zM471 728h1v1h-1zM523 738h1v1h-1zM1090 724h1v2h-1zM1026 730h1v1h-1zM702 746h1v1h-1zM462 744h1v4h-1zM53 727h1v1h-1zM524 739h1v1h-1zM588 751h1v1h-1zM288 745h1v2h-1zM725 747h1v1h-1zM148 735h1v1h-1zM466 731h1v4h-1zM706 743h1v1h-1zM812 742h1v1h-1zM257 745h1v1h-1zM143 741h1v1h-1zM326 741h1v1h-1zM755 746h1v2h-1zM721 745h1v1h-1zM607 741h1v1h-1zM34 726h1v2h-1zM109 729h1v2h-1zM348 737h1v1h-1zM139 743h1v1h-1zM674 749h1v2h-1zM349 738h1v1h-1zM140 744h1v1h-1zM341 743h1v1h-1zM467 728h1v3h-1zM770 740h1v1h-1zM374 749h1v1h-1zM291 741h1v2h-1zM728 743h1v2h-1zM1097 735h1v2h-1zM60 720h1v1h-1zM771 741h1v1h-1zM375 750h1v1h-1zM670 756h1v2h-1zM325 740h1v1h-1zM45 722h1v1h-1zM717 742h1v1h-1zM969 716h1v1h-1zM1021 726h1v1h-1zM17 744h1v2h-1zM960 725h1v1h-1zM606 740h1v1h-1zM146 737h1v1h-1zM1022 727h1v1h-1zM29 736h1v2h-1zM94 717h1v1h-1zM964 722h1v1h-1zM461 748h1v3h-1zM108 728h1v1h-1zM819 749h1v1h-1zM769 739h1v1h-1zM591 745h1v2h-1zM853 755h1v1h-1zM784 741h1v1h-1zM158 724h1v1h-1zM135 740h1v1h-1zM33 728h1v2h-1zM754 744h1v2h-1zM55 725h1v1h-1zM329 745h1v1h-1zM445 758h1v1h-1zM185 718h1v1h-1zM751 738h1v2h-1zM449 755h1v1h-1zM701 747h1v1h-1zM595 737h1v2h-1zM860 749h1v1h-1zM161 720h1v1h-1zM67 713h1v1h-1zM16 746h1v2h-1zM328 743h1v2h-1zM355 743h1v1h-1zM753 742h1v2h-1zM636 752h1v1h-1zM51 727h1v1h-1zM765 735h1v1h-1zM184 717h1v1h-1zM97 721h1v1h-1zM727 745h1v1h-1zM150 733h1v1h-1zM153 729h1v1h-1zM590 747h1v2h-1zM750 736h1v2h-1zM780 738h1v1h-1zM971 714h1v1h-1zM1027 731h1v1h-1zM354 742h1v1h-1zM966 720h1v1h-1zM377 752h1v1h-1zM327 742h1v1h-1zM924 732h1v1h-1zM959 726h1v1h-1zM142 742h1v1h-1zM814 744h1v1h-1zM928 729h1v1h-1zM28 738h1v1h-1zM764 734h1v1h-1zM730 741h1v1h-1zM62 718h1v1h-1zM722 746h1v1h-1zM608 742h1v1h-1zM290 743h1v1h-1zM472 729h1v1h-1zM723 747h1v1h-1zM160 721h1v2h-1zM609 743h1v1h-1zM32 730h1v2h-1zM518 732h1v1h-1zM350 739h1v1h-1zM760 741h1v1h-1zM813 743h1v1h-1zM376 751h1v1h-1zM145 738h1v1h-1zM96 719h1v2h-1zM756 748h1v1h-1zM1053 724h1v1h-1zM347 738h1v1h-1zM517 731h1v1h-1zM468 726h1v1h-1zM15 748h1v2h-1zM749 734h1v2h-1zM345 740h1v1h-1zM672 753h1v1h-1zM157 725h1v1h-1zM66 714h1v1h-1zM46 723h1v1h-1zM57 723h1v1h-1zM217 721h1v1h-1zM718 743h1v1h-1zM152 730h1v2h-1zM707 742h1v1h-1zM1057 721h1v1h-1zM752 740h1v2h-1zM637 753h1v2h-1zM95 718h1v1h-1zM1092 728h1v1h-1zM638 755h1v1h-1zM163 718h1v1h-1zM851 755h1v1h-1zM520 734h1v2h-1zM227 737h1v2h-1zM911 742h1v1h-1zM1087 720h1v1h-1zM763 735h1v2h-1zM417 755h1v1h-1zM857 752h1v1h-1zM64 716h1v1h-1zM136 741h1v1h-1zM451 753h1v1h-1zM254 741h1v2h-1zM14 750h1v2h-1zM330 746h1v1h-1zM729 742h1v1h-1zM759 742h1v2h-1zM61 719h1v1h-1zM186 719h1v1h-1zM52 728h1v1h-1zM724 748h1v1h-1zM147 736h1v1h-1zM705 744h1v1h-1zM968 717h1v2h-1zM767 737h1v1h-1zM641 759h1v1h-1zM915 739h1v1h-1zM611 745h1v1h-1zM675 747h1v2h-1zM919 736h1v1h-1zM155 727h1v1h-1zM815 745h1v1h-1zM378 753h1v1h-1zM1018 723h1v1h-1zM253 740h1v1h-1zM816 746h1v1h-1zM671 754h1v2h-1zM379 754h1v1h-1zM766 736h1v1h-1zM340 744h1v1h-1zM640 757h1v2h-1zM98 722h1v1h-1zM287 747h1v1h-1zM519 733h1v1h-1zM762 737h1v2h-1zM1086 718h1v2h-1zM531 744h1v1h-1zM428 749h1v1h-1zM610 744h1v1h-1zM1059 719h1v1h-1zM965 721h1v1h-1zM1017 722h1v1h-1zM56 724h1v1h-1zM223 729h1v2h-1zM758 744h1v2h-1zM151 732h1v1h-1zM865 746h1v1h-1zM633 750h1v1h-1zM527 741h1v1h-1zM594 739h1v2h-1zM963 723h1v1h-1zM159 723h1v1h-1zM431 754h1v1h-1zM59 721h1v1h-1zM1013 719h1v1h-1zM446 757h1v1h-1zM1089 723h1v1h-1zM450 754h1v1h-1zM181 714h1v1h-1zM36 723h1v1h-1zM162 719h1v1h-1zM256 744h1v1h-1zM331 747h1v1h-1zM859 750h1v1h-1zM639 756h1v1h-1zM852 756h1v1h-1z" fill="#1e90ff"/>
</g>
<rect x="3" y="22" width="1417" height="1" fill="#000"/>
<rect x="3" y="562" width="1417" height="1" fill="#000"/>
<rect x="3" y="22" width="1" height="541" fill="#000"/>
<rect x="1419" y="22" width="1" height="541" fill="#000"/>
<rect x="3" y="564" width="1417" height="1" fill="#000"/>
<rect x="3" y="668" width="1417" height="1" fill="#000"/>
<rect x="3" y="564" width="1" height="105" fill="#000"/>
<rect x="1419" y="564" width="1" height="105" fill="#000"/>
<rect x="3" y="670" width="1417" height="1" fill="#000"/>
<rect x="3" y="800" width="1417" height="1" fill="#000"/>
<rect x="3" y="670" width="1" height="131" fill="#000"/>
<rect x="1419" y="670" width="1" height="131" fill="#000"/>
<rect x="4" y="166" width="1417" height="3" fill="#ff0000"/>
<rect x="4" y="255" width="1417" height="3" fill="#ff0000"/>
<rect x="4" y="339" width="1417" height="3" fill="#00ff00"/>
<rect x="4" y="433" width="1417" height="3" fill="#0000ff"/>
<rect x="4" y="546" width="1417" height="3" fill="#0000ff"/>
<rect x="4" y="431" width="6" height="7" fill="#0000ff"/>
<rect x="6" y="434" width="1" height="1" fill="#fff"/>
<rect x="1413" y="431" width="7" height="7" fill="#0000ff"/>
<rect x="1416" y="434" width="1" height="1" fill="#fff"/>
<rect x="4" y="544" width="6" height="7" fill="#0000ff"/>
<rect x="6" y="547" width="1" height="1" fill="#fff"/>
<rect x="1413" y="544" width="7" height="7" fill="#0000ff"/>
<rect x="1416" y="547" width="1" height="1" fill="#fff"/>
<polygon points="1129,23 1140,23 1134.5,28.5" fill="#c0c0c0"/>
<rect x="1420" y="31" width="2" height="1" fill="#000"/>
<rect x="1420" y="64" width="2" height="1" fill="#000"/>
<rect x="1420" y="97" width="2" height="1" fill="#000"/>
<rect x="1420" y="130" width="2" height="1" fill="#000"/>
<rect x="1420" y="163" width="2" height="1" fill="#000"/>
<rect x="1420" y="196" width="2" height="1" fill="#000"/>
<rect x="1420" y="229" width="2" height="1" fill="#000"/>
<rect x="1420" y="262" width="2" height="1" fill="#000"/>
<rect x="1420" y="295" width="2" height="1" fill="#000"/>
<rect x="1420" y="328" width="2" height="1" fill="#000"/>
<rect x="1420" y="361" width="2" height="1" fill="#000"/>
<rect x="1420" y="394" width="2" height="1" fill="#000"/>
<rect x="1420" y="427" width="2" height="1" fill="#000"/>
<rect x="1420" y="460" width="2" height="1" fill="#000"/>
<rect x="1420" y="493" width="2" height="1" fill="#000"/>
<rect x="1420" y="526" width="2" height="1" fill="#000"/>
<rect x="1420" y="559" width="2" height="1" fill="#000"/>
<rect x="1420" y="613" width="2" height="1" fill="#000"/>
<rect x="4" y="801" width="1" height="3" fill="#000"/>
<rect x="68" y="801" width="1" height="3" fill="#000"/>
<rect x="132" y="801" width="1" height="3" fill="#000"/>
<rect x="196" y="801" width="1" height="3" fill="#000"/>
<rect x="260" y="801" width="1" height="3" fill="#000"/>
<rect x="324" y="801" width="1" height="3" fill="#000"/>
<rect x="388" y="801" width="1" height="3" fill="#000"/>
<rect x="452" y="801" width="1" height="3" fill="#000"/>
<rect x="516" y="801" width="1" height="3" fill="#000"/>
<rect x="580" y="801" width="1" height="3" fill="#000"/>
<rect x="644" y="801" width="1" height="3" fill="#000"/>
<rect x="708" y="801" width="1" height="3" fill="#000"/>
<rect x="772" y="801" width="1" height="3" fill="#000"/>
<rect x="836" y="801" width="1" height="3" fill="#000"/>
<rect x="900" y="801" width="1" height="3" fill="#000"/>
<rect x="964" y="801" width="1" height="3" fill="#000"/>
<rect x="1028" y="801" width="1" height="3" fill="#000"/>
<rect x="1092" y="801" width="1" height="3" fill="#000"/>
<polygon points="7,33 14,33 10.5,28.8" fill="#000"/>
</svg>
<div id="tb"></div>
<div class="tbt" style="left:6.5px">H4</div>
<div id="d1bg"></div>
<div class="tbt" style="left:35.5px">D1</div>
<div class="tbt" style="left:63px">W1</div>
<div class="tbt" style="left:89.7px">MN</div>
<div class="vs" style="left:29px;height:16px"></div>
<div class="vs" style="left:112px;height:18px"></div>
<div id="l18"></div><div id="l19"></div><div id="lv"></div>

<div class="t ax" style="left:1425.3px;top:26px;font-size:10px;color:#000;">1.14300</div><div class="t ax" style="left:1425.3px;top:59px;font-size:10px;color:#000;">1.13950</div><div class="t ax" style="left:1425.3px;top:92px;font-size:10px;color:#000;">1.13600</div><div class="t ax" style="left:1425.3px;top:125px;font-size:10px;color:#000;">1.13240</div><div class="t ax" style="left:1425.3px;top:158px;font-size:10px;color:#000;">1.12890</div><div class="t ax" style="left:1425.3px;top:191px;font-size:10px;color:#000;">1.12540</div><div class="t ax" style="left:1425.3px;top:224px;font-size:10px;color:#000;">1.12190</div><div class="t ax" style="left:1425.3px;top:257px;font-size:10px;color:#000;">1.11840</div><div class="t ax" style="left:1425.3px;top:290px;font-size:10px;color:#000;">1.11480</div><div class="t ax" style="left:1425.3px;top:323px;font-size:10px;color:#000;">1.11130</div><div class="t ax" style="left:1425.3px;top:356px;font-size:10px;color:#000;">1.10780</div><div class="t ax" style="left:1425.3px;top:389px;font-size:10px;color:#000;">1.10430</div><div class="t ax" style="left:1425.3px;top:422px;font-size:10px;color:#000;">1.10070</div><div class="t ax" style="left:1425.3px;top:455px;font-size:10px;color:#000;">1.09720</div><div class="t ax" style="left:1425.3px;top:488px;font-size:10px;color:#000;">1.09370</div><div class="t ax" style="left:1425.3px;top:521px;font-size:10px;color:#000;">1.09020</div><div class="t ax" style="left:1425.3px;top:554px;font-size:10px;color:#000;">1.08670</div><div class="pl" style="top:161px;background:#ff0000;color:#fff">1.12851</div><div class="pl" style="top:250px;background:#ff0000;color:#fff">1.11901</div><div class="pl" style="top:334px;background:#00ff00;color:#fff">1.11000</div><div class="pl" style="top:369px;background:#000;color:#fff">1.10639</div><div class="pl" style="top:428px;background:#0000ff;color:#fff">1.10003</div><div class="pl" style="top:541px;background:#0000ff;color:#fff">1.08800</div><div class="t ax" style="left:1422.6px;top:565.6px;font-size:10px;color:#000;">0.004536</div><div class="t ax" style="left:1422.8px;top:607.4px;font-size:10px;color:#000;">0.00</div><div class="t ax" style="left:1422.6px;top:655.6px;font-size:10px;color:#000;">-0.005205</div><div class="t ax" style="left:1422.6px;top:671.4px;font-size:10px;color:#000;">100</div><div class="t ax" style="left:1422.3px;top:704.2px;font-size:10px;color:#000;">70</div><div class="t ax" style="left:1422.3px;top:755.2px;font-size:10px;color:#000;">30</div><div class="t ax" style="left:1422.6px;top:787.6px;font-size:10px;color:#000;">0</div><div class="t dt" style="left:3px;top:804px;font-size:10px;color:#000;letter-spacing:-0.38px">29 May 2019</div><div class="t dt" style="left:67px;top:804px;font-size:10px;color:#000;letter-spacing:-0.38px">7 Jun 2019</div><div class="t dt" style="left:131px;top:804px;font-size:10px;color:#000;letter-spacing:-0.38px">17 Jun 2019</div><div class="t dt" style="left:195px;top:804px;font-size:10px;color:#000;letter-spacing:-0.38px">26 Jun 2019</div><div class="t dt" style="left:259px;top:804px;font-size:10px;color:#000;letter-spacing:-0.38px">5 Jul 2019</div><div class="t dt" style="left:323px;top:804px;font-size:10px;color:#000;letter-spacing:-0.38px">15 Jul 2019</div><div class="t dt" style="left:387px;top:804px;font-size:10px;color:#000;letter-spacing:-0.38px">24 Jul 2019</div><div class="t dt" style="left:451px;top:804px;font-size:10px;color:#000;letter-spacing:-0.38px">2 Aug 2019</div><div class="t dt" style="left:515px;top:804px;font-size:10px;color:#000;letter-spacing:-0.38px">12 Aug 2019</div><div class="t dt" style="left:579px;top:804px;font-size:10px;color:#000;letter-spacing:-0.38px">21 Aug 2019</div><div class="t dt" style="left:643px;top:804px;font-size:10px;color:#000;letter-spacing:-0.38px">30 Aug 2019</div><div class="t dt" style="left:707px;top:804px;font-size:10px;color:#000;letter-spacing:-0.38px">9 Sep 2019</div><div class="t dt" style="left:771px;top:804px;font-size:10px;color:#000;letter-spacing:-0.38px">18 Sep 2019</div><div class="t dt" style="left:835px;top:804px;font-size:10px;color:#000;letter-spacing:-0.38px">27 Sep 2019</div><div class="t dt" style="left:899px;top:804px;font-size:10px;color:#000;letter-spacing:-0.38px">7 Oct 2019</div><div class="t dt" style="left:963px;top:804px;font-size:10px;color:#000;letter-spacing:-0.38px">16 Oct 2019</div><div class="t dt" style="left:1027px;top:804px;font-size:10px;color:#000;letter-spacing:-0.38px">25 Oct 2019</div><div class="t dt" style="left:1091px;top:804px;font-size:10px;color:#000;letter-spacing:-0.38px">4 Nov 2019</div><div class="t ttl" style="left:19px;top:25px;font-size:10px;color:#000;letter-spacing:-0.35px">EURUSD-,Daily</div><div class="t ttl" style="left:92px;top:25px;font-size:10px;color:#000;letter-spacing:-0.4px">1.10692 1.10699 1.10626 1.10639</div><div class="t ttl" style="left:8px;top:568px;font-size:10px;color:#000;letter-spacing:-0.34px">MACD(12,26,9) 0.001368 0.002659</div><div class="t ttl" style="left:8px;top:674px;font-size:10px;color:#000;letter-spacing:-0.43px">RSI(14) 44.9951</div>
<div id="pnl">
<div class="pb" style="left:0;top:0;width:52px;height:24px;background:linear-gradient(#f85252,#de3a3a)"></div>
<div class="pb" style="left:167px;top:0;width:52px;height:24px;background:linear-gradient(#f85252,#de3a3a)"></div>
<div class="pb" style="left:52px;top:0;width:115px;height:24px;background:#f4f4f4"></div>
<div class="pb" style="left:0;top:24px;width:109px;height:40px;background:linear-gradient(#dc3232,#a90606)"></div>
<div class="pb" style="left:111px;top:24px;width:108px;height:40px;background:linear-gradient(#dc3232,#a90606)"></div>
<div class="pb" style="left:109px;top:24px;width:2px;height:40px;background:#f4f4f4"></div>
<div class="pb" style="left:4px;top:24px;width:44px;height:1px;background:#b01818"></div>
<div class="pb" style="left:52px;top:24px;width:57px;height:1px;background:#b81616"></div>
<div class="pb" style="left:111px;top:24px;width:56px;height:1px;background:#b81616"></div>
<div class="pb" style="left:51px;top:0px;width:1px;height:24px;background:#cc2a2a"></div>
<div class="pb" style="left:167px;top:0px;width:1px;height:24px;background:#cc2a2a"></div>
<div class="pb" style="left:171px;top:24px;width:44px;height:1px;background:#b01818"></div>
<div class="pb" style="left:54px;top:0px;width:111px;height:22px;background:#fff;border:1px solid #a4a8ae;box-sizing:border-box"></div>
<div class="pb" style="left:55px;top:1px;width:21px;height:20px;background:linear-gradient(#f2f2f2 0%,#e6e6e6 45%,#d6d6d6 50%,#cdcdcd 100%);border-right:1px solid #a4a8ae;box-sizing:border-box"></div>
<div class="pb" style="left:143px;top:1px;width:21px;height:20px;background:linear-gradient(#f2f2f2 0%,#e6e6e6 45%,#d6d6d6 50%,#cdcdcd 100%);border-left:1px solid #a4a8ae;box-sizing:border-box"></div>
<svg class="pb" style="left:55px;top:1px" width="110" height="19"><polygon points="6.5,8 11.5,8 9,11" fill="#4a62c8"/><polygon points="96.3,11 101.3,11 98.8,8" fill="#4a62c8"/></svg>
<div class="pt" style="left:-1px;top:5.4px;width:52px;text-align:center;font-size:11px;letter-spacing:-0.3px">SELL</div>
<div class="pt" style="left:166px;top:5.4px;width:52px;text-align:center;font-size:11px">BUY</div>
<div class="pt" style="left:76px;top:3.8px;width:64px;text-align:right;font-size:12px;color:#000">1.00</div>
<div class="pt" style="left:20.5px;top:44.3px;font-size:11.3px;font-weight:bold">1.10</div>
<div class="pt big" style="left:47.7px;top:23.5px">63</div>
<div class="pt" style="left:87px;top:29px;font-size:11px;font-weight:bold">9</div>
<div class="pt" style="left:130.5px;top:44.3px;font-size:11.3px;font-weight:bold">1.10</div>
<div class="pt big" style="left:158.7px;top:23.5px">65</div>
<div class="pt" style="left:198.3px;top:29px;font-size:11px;font-weight:bold">9</div>
</div>
<div id="tabbar"></div><div id="tabline0"></div><div id="tabline1"></div><div id="tabline"></div><div id="tabl"></div><div id="tabact">EURUSD-,Daily</div><div id="tabact1"></div><div id="tabbot"></div><div class="tab" style="left:123px;letter-spacing:0.04px">AUDUSD-,Daily</div><div class="tab" style="left:233.25px;letter-spacing:-0.12px">USDCHF-,Daily</div><div class="tab" style="left:340.5px;letter-spacing:-0.06px">USDCAD-,Daily</div><div class="tab" style="left:449.5px;letter-spacing:0.07px">USDCNH-,Daily</div><div class="tab" style="left:560.5px;letter-spacing:-0.13px">EURCHF-,Weekly</div><div class="tab" style="left:681.25px;letter-spacing:0.10px">XAUUSD-,Weekly</div><div class="tab" style="left:804.25px;letter-spacing:-0.19px">GBPUSD-,H1</div><div class="tab" style="left:900.5px;letter-spacing:0.13px">UKOil-,H1</div><div class="tab" style="left:979.25px;letter-spacing:0.15px">USDX-,Weekly</div><div class="tab" style="left:1083.25px;letter-spacing:-0.37px">EURCHF-,H1</div><div class="tab" style="left:1177px;letter-spacing:0.11px">USOil-,H1</div><div class="tsep" style="left:221px"></div><div class="tsep" style="left:329px"></div><div class="tsep" style="left:437px"></div><div class="tsep" style="left:549px"></div><div class="tsep" style="left:669px"></div><div class="tsep" style="left:793px"></div><div class="tsep" style="left:889px"></div><div class="tsep" style="left:969px"></div><div class="tsep" style="left:1074px"></div><div class="tsep" style="left:1165px"></div><div class="tsep" style="left:1245px"></div><svg style="position:absolute;left:1430px;top:826px" width="30" height="14"><polygon points="4.6,6.5 8.2,3.5 8.2,9.5" fill="#8a8a8a"/><polygon points="26.7,6.5 23.1,3.5 23.1,9.5" fill="#8a8a8a"/></svg>
</body></html>
